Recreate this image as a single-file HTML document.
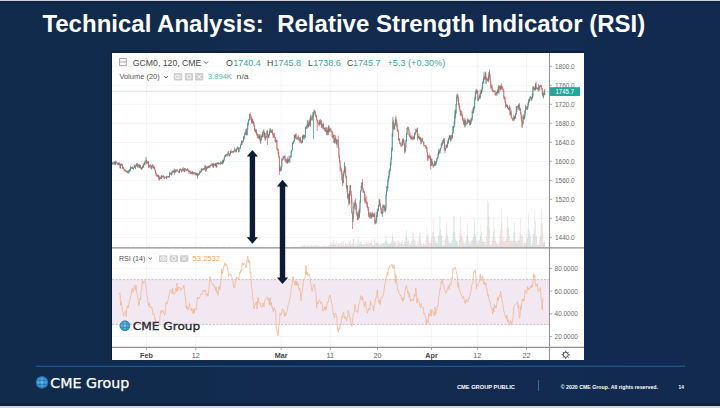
<!DOCTYPE html>
<html><head><meta charset="utf-8"><style>
html,body{margin:0;padding:0;}
body{width:720px;height:408px;overflow:hidden;position:relative;background:linear-gradient(90deg,#112b4c,#122a50);font-family:"Liberation Sans",Arial,sans-serif;}
.topline{position:absolute;left:0;top:0;width:720px;height:1px;background:#c9d0da;}
.botline{position:absolute;left:0;top:405.5px;width:720px;height:2.5px;background:#cdd4dd;}
.botdark{position:absolute;left:0;top:402.5px;width:720px;height:3px;background:#0e213e;}
.topdark{position:absolute;left:0;top:1px;width:720px;height:3px;background:#0f2443;}
.t{position:absolute;top:0;font:bold 24px/1 "Liberation Sans",Arial,sans-serif;color:#fff;white-space:nowrap;}
.ax{font:6.9px "Liberation Sans",Arial,sans-serif;fill:#6a6a6a;}
.tb{font:bold 7.2px "Liberation Sans",Arial,sans-serif;fill:#454545;}
.tl{font:7.2px "Liberation Sans",Arial,sans-serif;fill:#5e5e5e;}
.lg{font:8.8px "Liberation Sans",Arial,sans-serif;fill:#4a4a4a;}
.lg2{font:7.6px "Liberation Sans",Arial,sans-serif;fill:#555;}
.wm{font:11.1px "DejaVu Sans",sans-serif;fill:#2a2a33;stroke:#2a2a33;stroke-width:0.35px;}
.fl{font:13.2px "DejaVu Sans",sans-serif;fill:#fff;stroke:#fff;stroke-width:0.25px;}
.ft{font:bold 5.7px "Liberation Sans",Arial,sans-serif;fill:#fff;}
</style></head><body>
<div class="topline"></div><div class="topdark"></div>
<div class="t" id="t1" style="left:42.4px;top:12px">Technical Analysis:</div>
<div class="t" id="t2" style="left:277.2px;top:12px">Relative Strength Indicator (RSI)</div>
<svg width="720" height="408" viewBox="0 0 720 408" style="position:absolute;left:0;top:0">
<path d="M111 52H584M111.5 52V360" stroke="#0b1a33" stroke-width="1"/>
<rect x="112" y="53" width="472" height="307" fill="#ffffff"/>
<path d="M112 237.37H549M112 218.36H549M112 199.36H549M112 180.35H549M112 161.34H549M112 142.33H549M112 123.32H549M112 104.32H549M112 85.31H549M112 66.3H549M112 268.4H549M112 291.1H549M112 313.8H549M112 336.5H549M146.5 53V347M195.8 53V347M281.2 53V347M330.3 53V347M377.5 53V347M431.5 53V347M477.3 53V347M526.5 53V347" stroke="#f4f5f8" stroke-width="1" fill="none"/>
<rect x="112" y="279.6" width="437.5" height="44.8" fill="#f1e8f2"/>
<path d="M112 279.6H549M112 324.4H549" stroke="#c6b9c6" stroke-width="0.9" stroke-dasharray="2.2 1.4" fill="none"/>
<path d="M112.33 246.58h0.55v0.72h-0.55zM114.19 246.45h0.55v0.85h-0.55zM115.43 246.57h0.55v0.73h-0.55zM116.05 247.01h0.55v0.29h-0.55zM118.53 246.45h0.55v0.85h-0.55zM120.39 246.92h0.55v0.38h-0.55zM121.63 246.44h0.55v0.86h-0.55zM122.87 246.45h0.55v0.85h-0.55zM125.35 247.12h0.55v0.18h-0.55zM126.59 247.1h0.55v0.2h-0.55zM127.83 246.95h0.55v0.35h-0.55zM128.45 246.5h0.55v0.8h-0.55zM129.07 247.15h0.55v0.15h-0.55zM129.69 246.67h0.55v0.63h-0.55zM130.31 247.15h0.55v0.15h-0.55zM131.55 246.74h0.55v0.56h-0.55zM132.79 246.65h0.55v0.65h-0.55zM133.41 246.52h0.55v0.78h-0.55zM134.03 246.57h0.55v0.73h-0.55zM135.27 247.14h0.55v0.16h-0.55zM135.89 246.78h0.55v0.52h-0.55zM136.51 247.05h0.55v0.25h-0.55zM137.75 246.92h0.55v0.38h-0.55zM138.37 246.8h0.55v0.5h-0.55zM139.61 246.64h0.55v0.66h-0.55zM141.47 247.14h0.55v0.16h-0.55zM142.09 246.81h0.55v0.49h-0.55zM143.33 246.42h0.55v0.88h-0.55zM143.95 246.75h0.55v0.55h-0.55zM144.57 247.09h0.55v0.21h-0.55zM145.81 246.93h0.55v0.37h-0.55zM147.67 246.42h0.55v0.88h-0.55zM148.91 246.46h0.55v0.84h-0.55zM149.53 246.51h0.55v0.79h-0.55zM151.39 246.81h0.55v0.49h-0.55zM152.01 246.73h0.55v0.57h-0.55zM153.25 246.71h0.55v0.59h-0.55zM157.59 247.11h0.55v0.19h-0.55zM159.45 247.18h0.55v0.12h-0.55zM160.69 246.54h0.55v0.76h-0.55zM161.31 246.65h0.55v0.65h-0.55zM162.55 246.74h0.55v0.56h-0.55zM163.17 246.59h0.55v0.71h-0.55zM164.41 247.2h0.55v0.1h-0.55zM165.03 247.15h0.55v0.15h-0.55zM166.27 246.42h0.55v0.88h-0.55zM168.13 246.93h0.55v0.37h-0.55zM168.75 246.92h0.55v0.38h-0.55zM169.37 247.19h0.55v0.11h-0.55zM171.23 246.73h0.55v0.57h-0.55zM171.85 246.78h0.55v0.52h-0.55zM172.47 246.93h0.55v0.37h-0.55zM173.71 246.84h0.55v0.46h-0.55zM174.95 246.49h0.55v0.81h-0.55zM175.57 247.06h0.55v0.24h-0.55zM176.81 247h0.55v0.3h-0.55zM179.29 247.01h0.55v0.29h-0.55zM181.77 247h0.55v0.3h-0.55zM182.39 246.5h0.55v0.8h-0.55zM184.25 246.96h0.55v0.34h-0.55zM186.73 246.57h0.55v0.73h-0.55zM189.21 247h0.55v0.3h-0.55zM190.45 246.87h0.55v0.43h-0.55zM191.69 246.9h0.55v0.4h-0.55zM192.93 246.47h0.55v0.83h-0.55zM193.55 246.41h0.55v0.89h-0.55zM194.17 246.89h0.55v0.41h-0.55zM195.41 246.57h0.55v0.73h-0.55zM196.03 246.57h0.55v0.73h-0.55zM197.89 246.9h0.55v0.4h-0.55zM199.13 246.73h0.55v0.57h-0.55zM199.75 246.61h0.55v0.69h-0.55zM200.99 246.55h0.55v0.75h-0.55zM201.61 247.19h0.55v0.11h-0.55zM202.85 246.9h0.55v0.4h-0.55zM203.47 247.15h0.55v0.15h-0.55zM204.71 247.09h0.55v0.21h-0.55zM205.95 246.5h0.55v0.8h-0.55zM206.57 246.43h0.55v0.87h-0.55zM208.43 246.46h0.55v0.84h-0.55zM209.67 246.63h0.55v0.67h-0.55zM210.91 247.05h0.55v0.25h-0.55zM212.15 246.66h0.55v0.64h-0.55zM213.39 246.62h0.55v0.68h-0.55zM215.25 246.9h0.55v0.4h-0.55zM216.49 246.98h0.55v0.32h-0.55zM217.73 247.14h0.55v0.16h-0.55zM218.97 246.92h0.55v0.38h-0.55zM220.21 246.95h0.55v0.35h-0.55zM220.83 247.05h0.55v0.25h-0.55zM222.07 246.78h0.55v0.52h-0.55zM223.31 246.75h0.55v0.55h-0.55zM223.93 246.59h0.55v0.71h-0.55zM224.55 246.78h0.55v0.52h-0.55zM225.17 246.44h0.55v0.86h-0.55zM225.79 247.13h0.55v0.17h-0.55zM227.65 246.95h0.55v0.35h-0.55zM229.51 246.8h0.55v0.5h-0.55zM230.13 247.07h0.55v0.23h-0.55zM231.99 246.96h0.55v0.34h-0.55zM232.61 246.57h0.55v0.73h-0.55zM233.85 246.83h0.55v0.47h-0.55zM234.47 246.72h0.55v0.58h-0.55zM236.33 247.05h0.55v0.25h-0.55zM236.95 246.44h0.55v0.86h-0.55zM238.81 246.59h0.55v0.71h-0.55zM239.43 246.88h0.55v0.42h-0.55zM240.05 247.16h0.55v0.14h-0.55zM241.29 247.06h0.55v0.24h-0.55zM242.53 247.03h0.55v0.27h-0.55zM243.15 247.18h0.55v0.12h-0.55zM243.77 247.02h0.55v0.28h-0.55zM244.39 246.56h0.55v0.74h-0.55zM245.01 246.8h0.55v0.5h-0.55zM245.63 246.68h0.55v0.62h-0.55zM246.87 247.05h0.55v0.25h-0.55zM247.49 247.19h0.55v0.11h-0.55zM248.11 246.96h0.55v0.34h-0.55zM248.73 247.17h0.55v0.13h-0.55zM249.35 246.99h0.55v0.31h-0.55zM251.83 246.7h0.55v0.6h-0.55zM255.55 246.77h0.55v0.53h-0.55zM258.03 247.01h0.55v0.29h-0.55zM259.27 246.52h0.55v0.78h-0.55zM260.51 247.07h0.55v0.23h-0.55zM261.13 246.79h0.55v0.51h-0.55zM262.37 246.97h0.55v0.33h-0.55zM262.99 247.06h0.55v0.24h-0.55zM264.23 247.01h0.55v0.29h-0.55zM265.47 247.07h0.55v0.23h-0.55zM266.09 246.44h0.55v0.86h-0.55zM266.71 246.97h0.55v0.33h-0.55zM268.57 246.92h0.55v0.38h-0.55zM269.19 246.75h0.55v0.55h-0.55zM269.81 246.8h0.55v0.5h-0.55zM271.05 246.79h0.55v0.51h-0.55zM271.67 246.9h0.55v0.4h-0.55zM273.53 246.98h0.55v0.32h-0.55zM276.01 247.13h0.55v0.17h-0.55zM279.73 246.85h0.55v0.45h-0.55zM280.97 246.56h0.55v0.74h-0.55zM281.59 247.01h0.55v0.29h-0.55zM282.83 246.56h0.55v0.74h-0.55zM283.45 247h0.55v0.3h-0.55zM284.07 246.48h0.55v0.82h-0.55zM287.17 246.81h0.55v0.49h-0.55zM288.41 246.97h0.55v0.33h-0.55zM289.03 246.53h0.55v0.77h-0.55zM289.65 246.8h0.55v0.5h-0.55zM290.89 247.04h0.55v0.26h-0.55zM291.51 247.03h0.55v0.27h-0.55zM292.13 246.53h0.55v0.77h-0.55zM293.37 246.42h0.55v0.88h-0.55zM293.99 246.47h0.55v0.83h-0.55zM295.23 246.56h0.55v0.74h-0.55zM296.47 246.55h0.55v0.75h-0.55zM297.09 246.56h0.55v0.74h-0.55zM299.57 247h0.55v0.3h-0.55zM301.43 246.03h0.55v1.27h-0.55zM302.05 246.35h0.55v0.95h-0.55zM302.67 245.5h0.55v1.8h-0.55zM303.91 245.27h0.55v2.03h-0.55zM304.53 245.23h0.55v2.07h-0.55zM305.15 245.78h0.55v1.52h-0.55zM306.39 245.73h0.55v1.57h-0.55zM307.01 246.79h0.55v0.51h-0.55zM308.25 245.34h0.55v1.96h-0.55zM308.87 246.41h0.55v0.89h-0.55zM310.11 245.68h0.55v1.62h-0.55zM311.97 245.82h0.55v1.48h-0.55zM312.59 246.76h0.55v0.54h-0.55zM313.21 245.62h0.55v1.68h-0.55zM313.83 246.89h0.55v0.41h-0.55zM319.41 246.27h0.55v1.03h-0.55zM320.65 246.96h0.55v0.34h-0.55zM322.51 246.57h0.55v0.73h-0.55zM324.37 245.68h0.55v1.62h-0.55zM325.61 246.4h0.55v0.9h-0.55zM326.85 246.64h0.55v0.66h-0.55zM328.09 245.7h0.55v1.6h-0.55zM329.33 246.37h0.55v0.93h-0.55zM333.05 239.86h0.55v7.44h-0.55zM334.29 243.93h0.55v3.37h-0.55zM334.91 245.05h0.55v2.25h-0.55zM336.77 246.04h0.55v1.26h-0.55zM337.39 243.67h0.55v3.63h-0.55zM342.97 241.31h0.55v5.99h-0.55zM343.59 245.35h0.55v1.95h-0.55zM344.21 246.02h0.55v1.28h-0.55zM346.69 243.06h0.55v4.24h-0.55zM347.93 245.77h0.55v1.53h-0.55zM349.17 242.02h0.55v5.28h-0.55zM349.79 244.95h0.55v2.35h-0.55zM352.89 239.22h0.55v8.08h-0.55zM353.51 238.75h0.55v8.55h-0.55zM354.13 246.03h0.55v1.27h-0.55zM354.75 242.22h0.55v5.08h-0.55zM357.85 237.38h0.55v9.92h-0.55zM359.09 241.97h0.55v5.33h-0.55zM359.71 244.25h0.55v3.05h-0.55zM360.33 241.86h0.55v5.44h-0.55zM360.95 242.34h0.55v4.96h-0.55zM361.57 244.06h0.55v3.24h-0.55zM363.43 244.24h0.55v3.06h-0.55zM369.01 242.96h0.55v4.34h-0.55zM370.25 242.45h0.55v4.85h-0.55zM371.49 238.74h0.55v8.56h-0.55zM372.73 245h0.55v2.3h-0.55zM373.35 245.2h0.55v2.1h-0.55zM375.83 242.11h0.55v5.19h-0.55zM376.45 243.35h0.55v3.95h-0.55zM377.07 242.49h0.55v4.81h-0.55zM378.31 242.77h0.55v4.53h-0.55zM378.93 243.58h0.55v3.72h-0.55zM382.03 243.82h0.55v3.48h-0.55zM382.65 243.17h0.55v4.13h-0.55zM383.27 242.98h0.55v4.32h-0.55zM385.13 239.85h0.55v7.45h-0.55zM385.75 235.79h0.55v11.51h-0.55zM386.37 241.25h0.55v6.05h-0.55zM386.99 243.27h0.55v4.03h-0.55zM387.61 241.66h0.55v5.64h-0.55zM388.23 243.52h0.55v3.78h-0.55zM388.85 244.16h0.55v3.14h-0.55zM389.47 243.65h0.55v3.65h-0.55zM390.09 242.58h0.55v4.72h-0.55zM390.71 243.09h0.55v4.21h-0.55zM391.33 241.86h0.55v5.44h-0.55zM391.95 237.08h0.55v10.22h-0.55zM392.57 232.57h0.55v14.73h-0.55zM394.43 241.37h0.55v5.93h-0.55zM395.05 242.87h0.55v4.43h-0.55zM398.77 240.29h0.55v7.01h-0.55zM401.25 242.14h0.55v5.16h-0.55zM401.87 239.88h0.55v7.42h-0.55zM402.49 244.46h0.55v2.84h-0.55zM404.97 242.32h0.55v4.98h-0.55zM405.59 235.94h0.55v11.36h-0.55zM406.21 230.28h0.55v17.02h-0.55zM406.83 237.98h0.55v9.32h-0.55zM407.45 241.56h0.55v5.74h-0.55zM410.55 244.43h0.55v2.87h-0.55zM411.79 240.18h0.55v7.12h-0.55zM413.03 232.69h0.55v14.61h-0.55zM414.27 239.89h0.55v7.41h-0.55zM414.89 240.63h0.55v6.67h-0.55zM415.51 245.42h0.55v1.88h-0.55zM416.13 245.19h0.55v2.11h-0.55zM416.75 245.67h0.55v1.63h-0.55zM417.99 243.58h0.55v3.72h-0.55zM419.85 233.02h0.55v14.28h-0.55zM421.09 243.53h0.55v3.77h-0.55zM421.71 244.23h0.55v3.07h-0.55zM428.53 241.57h0.55v5.73h-0.55zM431.01 237.03h0.55v10.27h-0.55zM433.49 232.34h0.55v14.96h-0.55zM434.11 236.57h0.55v10.73h-0.55zM434.73 237.64h0.55v9.66h-0.55zM435.35 241.65h0.55v5.65h-0.55zM435.97 241.33h0.55v5.97h-0.55zM436.59 243.07h0.55v4.23h-0.55zM437.21 243.42h0.55v3.88h-0.55zM437.83 235.49h0.55v11.81h-0.55zM438.45 235.26h0.55v12.04h-0.55zM439.69 215.95h0.55v31.35h-0.55zM440.31 229.13h0.55v18.17h-0.55zM440.93 235.61h0.55v11.69h-0.55zM441.55 234.8h0.55v12.5h-0.55zM442.17 245.35h0.55v1.95h-0.55zM443.41 245.72h0.55v1.58h-0.55zM445.27 239.18h0.55v8.12h-0.55zM445.89 232.77h0.55v14.53h-0.55zM447.13 234.47h0.55v12.83h-0.55zM447.75 237.42h0.55v9.88h-0.55zM448.37 240.97h0.55v6.33h-0.55zM448.99 243.12h0.55v4.18h-0.55zM449.61 242.54h0.55v4.76h-0.55zM450.85 242.33h0.55v4.97h-0.55zM452.09 239.64h0.55v7.66h-0.55zM452.71 231.49h0.55v15.81h-0.55zM453.33 216.27h0.55v31.03h-0.55zM453.95 215.97h0.55v31.33h-0.55zM454.57 232.37h0.55v14.93h-0.55zM455.19 239.37h0.55v7.93h-0.55zM455.81 240.91h0.55v6.39h-0.55zM456.43 241.46h0.55v5.84h-0.55zM457.05 241.25h0.55v6.05h-0.55zM461.39 235.82h0.55v11.48h-0.55zM463.87 245.54h0.55v1.76h-0.55zM464.49 242.42h0.55v4.88h-0.55zM465.73 240.86h0.55v6.44h-0.55zM466.35 235.39h0.55v11.91h-0.55zM466.97 223.34h0.55v23.96h-0.55zM468.83 241.6h0.55v5.7h-0.55zM470.07 244.06h0.55v3.24h-0.55zM470.69 240.73h0.55v6.57h-0.55zM471.31 241.6h0.55v5.7h-0.55zM471.93 239.92h0.55v7.38h-0.55zM473.17 237.44h0.55v9.86h-0.55zM473.79 233.96h0.55v13.34h-0.55zM474.41 219.48h0.55v27.82h-0.55zM475.03 234.04h0.55v13.26h-0.55zM475.65 235.92h0.55v11.38h-0.55zM476.89 244.91h0.55v2.39h-0.55zM478.13 240.31h0.55v6.99h-0.55zM478.75 240.31h0.55v6.99h-0.55zM479.99 235.42h0.55v11.88h-0.55zM481.23 231.78h0.55v15.52h-0.55zM481.85 241.76h0.55v5.54h-0.55zM482.47 238.71h0.55v8.59h-0.55zM483.09 242.08h0.55v5.22h-0.55zM483.71 241.33h0.55v5.97h-0.55zM484.95 241.47h0.55v5.83h-0.55zM488.05 202.54h0.55v44.76h-0.55zM488.67 216.27h0.55v31.03h-0.55zM491.15 244.08h0.55v3.22h-0.55zM493.01 231.85h0.55v15.45h-0.55zM495.49 240.77h0.55v6.53h-0.55zM496.11 242.11h0.55v5.19h-0.55zM496.73 244.64h0.55v2.66h-0.55zM497.35 243.79h0.55v3.51h-0.55zM498.59 240.47h0.55v6.83h-0.55zM500.45 228.22h0.55v19.08h-0.55zM506.03 238.74h0.55v8.56h-0.55zM509.13 235.65h0.55v11.65h-0.55zM510.37 240.46h0.55v6.84h-0.55zM512.85 240.04h0.55v7.26h-0.55zM514.09 222.87h0.55v24.43h-0.55zM514.71 232.3h0.55v15h-0.55zM515.33 240.77h0.55v6.53h-0.55zM515.95 241.41h0.55v5.89h-0.55zM516.57 243.11h0.55v4.19h-0.55zM517.19 240.66h0.55v6.64h-0.55zM518.43 239.27h0.55v8.03h-0.55zM519.67 232.61h0.55v14.69h-0.55zM522.77 241.97h0.55v5.33h-0.55zM524.01 241.5h0.55v5.8h-0.55zM524.63 244.41h0.55v2.89h-0.55zM525.25 242.91h0.55v4.39h-0.55zM527.11 238.13h0.55v9.17h-0.55zM527.73 228.92h0.55v18.38h-0.55zM528.35 213.43h0.55v33.87h-0.55zM529.59 233.61h0.55v13.69h-0.55zM530.21 236.05h0.55v11.25h-0.55zM531.45 245.59h0.55v1.71h-0.55zM532.07 243.32h0.55v3.98h-0.55zM532.69 233.63h0.55v13.67h-0.55zM533.93 228.95h0.55v18.35h-0.55zM535.17 221.38h0.55v25.92h-0.55zM537.03 245.12h0.55v2.18h-0.55zM538.27 245.65h0.55v1.65h-0.55zM539.51 238.12h0.55v9.18h-0.55zM540.13 235.2h0.55v12.1h-0.55zM540.75 223.57h0.55v23.73h-0.55zM543.23 242.48h0.55v4.82h-0.55zM543.85 242.31h0.55v4.99h-0.55zM544.47 240.62h0.55v6.68h-0.55z" fill="#3f877b" fill-opacity="0.25"/>
<path d="M112.95 246.99h0.55v0.31h-0.55zM113.57 247.16h0.55v0.14h-0.55zM114.81 246.91h0.55v0.39h-0.55zM116.67 246.84h0.55v0.46h-0.55zM117.29 246.9h0.55v0.4h-0.55zM117.91 246.62h0.55v0.68h-0.55zM119.15 246.8h0.55v0.5h-0.55zM119.77 246.75h0.55v0.55h-0.55zM121.01 247.01h0.55v0.29h-0.55zM122.25 247.11h0.55v0.19h-0.55zM123.49 246.67h0.55v0.63h-0.55zM124.11 247.14h0.55v0.16h-0.55zM124.73 246.48h0.55v0.82h-0.55zM125.97 246.75h0.55v0.55h-0.55zM127.21 246.41h0.55v0.89h-0.55zM130.93 247.18h0.55v0.12h-0.55zM132.17 246.41h0.55v0.89h-0.55zM134.65 246.78h0.55v0.52h-0.55zM137.13 246.78h0.55v0.52h-0.55zM138.99 247.04h0.55v0.26h-0.55zM140.23 246.87h0.55v0.43h-0.55zM140.85 246.81h0.55v0.49h-0.55zM142.71 246.75h0.55v0.55h-0.55zM145.19 246.96h0.55v0.34h-0.55zM146.43 246.64h0.55v0.66h-0.55zM147.05 246.45h0.55v0.85h-0.55zM148.29 246.44h0.55v0.86h-0.55zM150.15 246.45h0.55v0.85h-0.55zM150.77 247.18h0.55v0.12h-0.55zM152.63 246.65h0.55v0.65h-0.55zM153.87 246.71h0.55v0.59h-0.55zM154.49 246.45h0.55v0.85h-0.55zM155.11 247.13h0.55v0.17h-0.55zM155.73 246.78h0.55v0.52h-0.55zM156.35 246.43h0.55v0.87h-0.55zM156.97 247.17h0.55v0.13h-0.55zM158.21 246.5h0.55v0.8h-0.55zM158.83 246.43h0.55v0.87h-0.55zM160.07 247.17h0.55v0.13h-0.55zM161.93 246.78h0.55v0.52h-0.55zM163.79 246.55h0.55v0.75h-0.55zM165.65 246.56h0.55v0.74h-0.55zM166.89 246.53h0.55v0.77h-0.55zM167.51 246.87h0.55v0.43h-0.55zM169.99 246.58h0.55v0.72h-0.55zM170.61 246.99h0.55v0.31h-0.55zM173.09 246.66h0.55v0.64h-0.55zM174.33 247.01h0.55v0.29h-0.55zM176.19 247.08h0.55v0.22h-0.55zM177.43 246.82h0.55v0.48h-0.55zM178.05 246.57h0.55v0.73h-0.55zM178.67 246.93h0.55v0.37h-0.55zM179.91 246.68h0.55v0.62h-0.55zM180.53 246.99h0.55v0.31h-0.55zM181.15 246.78h0.55v0.52h-0.55zM183.01 247.05h0.55v0.25h-0.55zM183.63 247.01h0.55v0.29h-0.55zM184.87 246.94h0.55v0.36h-0.55zM185.49 246.62h0.55v0.68h-0.55zM186.11 246.66h0.55v0.64h-0.55zM187.35 246.77h0.55v0.53h-0.55zM187.97 247.14h0.55v0.16h-0.55zM188.59 246.59h0.55v0.71h-0.55zM189.83 247.03h0.55v0.27h-0.55zM191.07 246.41h0.55v0.89h-0.55zM192.31 246.91h0.55v0.39h-0.55zM194.79 247.09h0.55v0.21h-0.55zM196.65 246.93h0.55v0.37h-0.55zM197.27 246.57h0.55v0.73h-0.55zM198.51 246.97h0.55v0.33h-0.55zM200.37 246.82h0.55v0.48h-0.55zM202.23 246.8h0.55v0.5h-0.55zM204.09 246.47h0.55v0.83h-0.55zM205.33 247.04h0.55v0.26h-0.55zM207.19 246.45h0.55v0.85h-0.55zM207.81 246.93h0.55v0.37h-0.55zM209.05 247.09h0.55v0.21h-0.55zM210.29 246.44h0.55v0.86h-0.55zM211.53 247.09h0.55v0.21h-0.55zM212.77 246.49h0.55v0.81h-0.55zM214.01 246.44h0.55v0.86h-0.55zM214.63 246.84h0.55v0.46h-0.55zM215.87 247.1h0.55v0.2h-0.55zM217.11 246.45h0.55v0.85h-0.55zM218.35 247.05h0.55v0.25h-0.55zM219.59 247.16h0.55v0.14h-0.55zM221.45 247.1h0.55v0.2h-0.55zM222.69 246.77h0.55v0.53h-0.55zM226.41 247.02h0.55v0.28h-0.55zM227.03 247.14h0.55v0.16h-0.55zM228.27 246.59h0.55v0.71h-0.55zM228.89 246.46h0.55v0.84h-0.55zM230.75 246.94h0.55v0.36h-0.55zM231.37 246.75h0.55v0.55h-0.55zM233.23 246.42h0.55v0.88h-0.55zM235.09 246.52h0.55v0.78h-0.55zM235.71 246.83h0.55v0.47h-0.55zM237.57 246.42h0.55v0.88h-0.55zM238.19 247.18h0.55v0.12h-0.55zM240.67 247.07h0.55v0.23h-0.55zM241.91 246.61h0.55v0.69h-0.55zM246.25 246.83h0.55v0.47h-0.55zM249.97 246.7h0.55v0.6h-0.55zM250.59 246.9h0.55v0.4h-0.55zM251.21 246.82h0.55v0.48h-0.55zM252.45 246.95h0.55v0.35h-0.55zM253.07 246.91h0.55v0.39h-0.55zM253.69 246.49h0.55v0.81h-0.55zM254.31 246.74h0.55v0.56h-0.55zM254.93 246.87h0.55v0.43h-0.55zM256.17 246.83h0.55v0.47h-0.55zM256.79 246.93h0.55v0.37h-0.55zM257.41 246.47h0.55v0.83h-0.55zM258.65 246.45h0.55v0.85h-0.55zM259.89 246.49h0.55v0.81h-0.55zM261.75 246.41h0.55v0.89h-0.55zM263.61 246.62h0.55v0.68h-0.55zM264.85 246.73h0.55v0.57h-0.55zM267.33 247.12h0.55v0.18h-0.55zM267.95 246.65h0.55v0.65h-0.55zM270.43 246.46h0.55v0.84h-0.55zM272.29 247.2h0.55v0.1h-0.55zM272.91 246.8h0.55v0.5h-0.55zM274.15 246.74h0.55v0.56h-0.55zM274.77 246.69h0.55v0.61h-0.55zM275.39 246.83h0.55v0.47h-0.55zM276.63 246.8h0.55v0.5h-0.55zM277.25 246.81h0.55v0.49h-0.55zM277.87 246.69h0.55v0.61h-0.55zM278.49 246.42h0.55v0.88h-0.55zM279.11 246.98h0.55v0.32h-0.55zM280.35 247.13h0.55v0.17h-0.55zM282.21 246.54h0.55v0.76h-0.55zM284.69 246.8h0.55v0.5h-0.55zM285.31 246.86h0.55v0.44h-0.55zM285.93 246.76h0.55v0.54h-0.55zM286.55 246.44h0.55v0.86h-0.55zM287.79 246.81h0.55v0.49h-0.55zM290.27 246.93h0.55v0.37h-0.55zM292.75 246.56h0.55v0.74h-0.55zM294.61 246.65h0.55v0.65h-0.55zM295.85 246.63h0.55v0.67h-0.55zM297.71 247.06h0.55v0.24h-0.55zM298.33 246.55h0.55v0.75h-0.55zM298.95 246.96h0.55v0.34h-0.55zM300.19 245.25h0.55v2.05h-0.55zM300.81 246.96h0.55v0.34h-0.55zM303.29 245.84h0.55v1.46h-0.55zM305.77 246.88h0.55v0.42h-0.55zM307.63 245.13h0.55v2.17h-0.55zM309.49 246.65h0.55v0.65h-0.55zM310.73 245.56h0.55v1.74h-0.55zM311.35 245.13h0.55v2.17h-0.55zM314.45 245.35h0.55v1.95h-0.55zM315.07 245.54h0.55v1.76h-0.55zM315.69 245.51h0.55v1.79h-0.55zM316.31 245.34h0.55v1.96h-0.55zM316.93 245.92h0.55v1.38h-0.55zM317.55 245.21h0.55v2.09h-0.55zM318.17 245.79h0.55v1.51h-0.55zM318.79 246.07h0.55v1.23h-0.55zM320.03 246.33h0.55v0.97h-0.55zM321.27 246.69h0.55v0.61h-0.55zM321.89 245.49h0.55v1.81h-0.55zM323.13 245.76h0.55v1.54h-0.55zM323.75 245.53h0.55v1.77h-0.55zM324.99 246.02h0.55v1.28h-0.55zM326.23 246.48h0.55v0.82h-0.55zM327.47 245.77h0.55v1.53h-0.55zM328.71 245.21h0.55v2.09h-0.55zM329.95 241.66h0.55v5.64h-0.55zM330.57 244.85h0.55v2.45h-0.55zM331.19 243.2h0.55v4.1h-0.55zM331.81 242.43h0.55v4.87h-0.55zM332.43 244.9h0.55v2.4h-0.55zM333.67 241.99h0.55v5.31h-0.55zM335.53 243.4h0.55v3.9h-0.55zM336.15 240.66h0.55v6.64h-0.55zM338.01 243.1h0.55v4.2h-0.55zM338.63 244.27h0.55v3.03h-0.55zM339.25 243.93h0.55v3.37h-0.55zM339.87 245.69h0.55v1.61h-0.55zM340.49 242.87h0.55v4.43h-0.55zM341.11 243.52h0.55v3.78h-0.55zM341.73 241.61h0.55v5.69h-0.55zM342.35 245.04h0.55v2.26h-0.55zM344.83 243.54h0.55v3.76h-0.55zM345.45 242.7h0.55v4.6h-0.55zM346.07 244.7h0.55v2.6h-0.55zM347.31 244.02h0.55v3.28h-0.55zM348.55 241.53h0.55v5.77h-0.55zM350.41 240.11h0.55v7.19h-0.55zM351.03 244.17h0.55v3.13h-0.55zM351.65 242.58h0.55v4.72h-0.55zM352.27 243.05h0.55v4.25h-0.55zM355.37 244.35h0.55v2.95h-0.55zM355.99 245.77h0.55v1.53h-0.55zM356.61 242.04h0.55v5.26h-0.55zM357.23 243.36h0.55v3.94h-0.55zM358.47 244.78h0.55v2.52h-0.55zM362.19 244.12h0.55v3.18h-0.55zM362.81 244.72h0.55v2.58h-0.55zM364.05 242.44h0.55v4.86h-0.55zM364.67 243.93h0.55v3.37h-0.55zM365.29 244.03h0.55v3.27h-0.55zM365.91 241.81h0.55v5.49h-0.55zM366.53 242.37h0.55v4.93h-0.55zM367.15 242.94h0.55v4.36h-0.55zM367.77 244.82h0.55v2.48h-0.55zM368.39 241.55h0.55v5.75h-0.55zM369.63 243.03h0.55v4.27h-0.55zM370.87 241.4h0.55v5.9h-0.55zM372.11 244.22h0.55v3.08h-0.55zM373.97 241.33h0.55v5.97h-0.55zM374.59 237.74h0.55v9.56h-0.55zM375.21 243.39h0.55v3.91h-0.55zM377.69 243.41h0.55v3.89h-0.55zM379.55 245.62h0.55v1.68h-0.55zM380.17 244.68h0.55v2.62h-0.55zM380.79 241.55h0.55v5.75h-0.55zM381.41 243.46h0.55v3.84h-0.55zM383.89 242.27h0.55v5.03h-0.55zM384.51 243.27h0.55v4.03h-0.55zM393.19 239.96h0.55v7.34h-0.55zM393.81 241.81h0.55v5.49h-0.55zM395.67 241.63h0.55v5.67h-0.55zM396.29 245.63h0.55v1.67h-0.55zM396.91 240.89h0.55v6.41h-0.55zM397.53 244.53h0.55v2.77h-0.55zM398.15 241.6h0.55v5.7h-0.55zM399.39 242.96h0.55v4.34h-0.55zM400.01 243.15h0.55v4.15h-0.55zM400.63 242.38h0.55v4.92h-0.55zM403.11 244.46h0.55v2.84h-0.55zM403.73 242.08h0.55v5.22h-0.55zM404.35 240.5h0.55v6.8h-0.55zM408.07 240.5h0.55v6.8h-0.55zM408.69 240.57h0.55v6.73h-0.55zM409.31 244.44h0.55v2.86h-0.55zM409.93 243.61h0.55v3.69h-0.55zM411.17 241.49h0.55v5.81h-0.55zM412.41 232.35h0.55v14.95h-0.55zM413.65 239.06h0.55v8.24h-0.55zM417.37 241.62h0.55v5.68h-0.55zM418.61 238.19h0.55v9.11h-0.55zM419.23 233.09h0.55v14.21h-0.55zM420.47 239.42h0.55v7.88h-0.55zM422.33 245.7h0.55v1.6h-0.55zM422.95 243.94h0.55v3.36h-0.55zM423.57 242.25h0.55v5.05h-0.55zM424.19 244.19h0.55v3.11h-0.55zM424.81 245.12h0.55v2.18h-0.55zM425.43 240.72h0.55v6.58h-0.55zM426.05 236.42h0.55v10.88h-0.55zM426.67 226.95h0.55v20.35h-0.55zM427.29 234.63h0.55v12.67h-0.55zM427.91 235.45h0.55v11.85h-0.55zM429.15 242.78h0.55v4.52h-0.55zM429.77 242.99h0.55v4.31h-0.55zM430.39 242.63h0.55v4.67h-0.55zM431.63 240.27h0.55v7.03h-0.55zM432.25 232.23h0.55v15.07h-0.55zM432.87 218.89h0.55v28.41h-0.55zM439.07 232.59h0.55v14.71h-0.55zM442.79 239.84h0.55v7.46h-0.55zM444.03 244.91h0.55v2.39h-0.55zM444.65 238.77h0.55v8.53h-0.55zM446.51 221.83h0.55v25.47h-0.55zM450.23 243.78h0.55v3.52h-0.55zM451.47 242.01h0.55v5.29h-0.55zM457.67 245.46h0.55v1.84h-0.55zM458.29 245.59h0.55v1.71h-0.55zM458.91 240.14h0.55v7.16h-0.55zM459.53 232.94h0.55v14.36h-0.55zM460.15 216.73h0.55v30.57h-0.55zM460.77 230.65h0.55v16.65h-0.55zM462.01 237.03h0.55v10.27h-0.55zM462.63 242.11h0.55v5.19h-0.55zM463.25 240.19h0.55v7.11h-0.55zM465.11 243.5h0.55v3.8h-0.55zM467.59 234.83h0.55v12.47h-0.55zM468.21 239.26h0.55v8.04h-0.55zM469.45 244.38h0.55v2.92h-0.55zM472.55 237.96h0.55v9.34h-0.55zM476.27 239.67h0.55v7.63h-0.55zM477.51 242.25h0.55v5.05h-0.55zM479.37 239.07h0.55v8.23h-0.55zM480.61 224.32h0.55v22.98h-0.55zM484.33 241.23h0.55v6.07h-0.55zM485.57 245.49h0.55v1.81h-0.55zM486.19 236.53h0.55v10.77h-0.55zM486.81 225.75h0.55v21.55h-0.55zM487.43 200.69h0.55v46.61h-0.55zM489.29 229.32h0.55v17.98h-0.55zM489.91 245.58h0.55v1.72h-0.55zM490.53 245.12h0.55v2.18h-0.55zM491.77 240.32h0.55v6.98h-0.55zM492.39 237h0.55v10.3h-0.55zM493.63 216.88h0.55v30.42h-0.55zM494.25 228.71h0.55v18.59h-0.55zM494.87 238.58h0.55v8.72h-0.55zM497.97 245.74h0.55v1.56h-0.55zM499.21 242.27h0.55v5.03h-0.55zM499.83 235.12h0.55v12.18h-0.55zM501.07 208.38h0.55v38.92h-0.55zM501.69 222.55h0.55v24.75h-0.55zM502.31 239.08h0.55v8.22h-0.55zM502.93 237.09h0.55v10.21h-0.55zM503.55 241.3h0.55v6h-0.55zM504.17 241.09h0.55v6.21h-0.55zM504.79 241.6h0.55v5.7h-0.55zM505.41 240.25h0.55v7.05h-0.55zM506.65 227.61h0.55v19.69h-0.55zM507.27 216.63h0.55v30.67h-0.55zM507.89 226.84h0.55v20.46h-0.55zM508.51 228.84h0.55v18.46h-0.55zM509.75 242.34h0.55v4.96h-0.55zM510.99 239.81h0.55v7.49h-0.55zM511.61 240.76h0.55v6.54h-0.55zM512.23 241.86h0.55v5.44h-0.55zM513.47 232.7h0.55v14.6h-0.55zM517.81 239.88h0.55v7.42h-0.55zM519.05 240.3h0.55v7h-0.55zM520.29 218.87h0.55v28.43h-0.55zM520.91 234.06h0.55v13.24h-0.55zM521.53 239.49h0.55v7.81h-0.55zM522.15 235.59h0.55v11.71h-0.55zM523.39 245.41h0.55v1.89h-0.55zM525.87 241.46h0.55v5.84h-0.55zM526.49 233.83h0.55v13.47h-0.55zM528.97 230.32h0.55v16.98h-0.55zM530.83 244.83h0.55v2.47h-0.55zM533.31 234.07h0.55v13.23h-0.55zM534.55 209.7h0.55v37.6h-0.55zM535.79 235.07h0.55v12.23h-0.55zM536.41 236.46h0.55v10.84h-0.55zM537.65 241.95h0.55v5.35h-0.55zM538.89 244.42h0.55v2.88h-0.55zM541.37 209.09h0.55v38.21h-0.55zM541.99 222.9h0.55v24.4h-0.55zM542.61 232.42h0.55v14.88h-0.55z" fill="#c65f5f" fill-opacity="0.25"/>
<path d="M112 91.3H549" stroke="#d6dde5" stroke-width="0.9"/>
<path d="M112.6 162.35V164.69M114.46 161.5V164.36M115.7 160.54V164.87M116.32 161.54V162.82M118.8 162.82V165.52M120.66 163.61V168.56M121.9 164.3V165.99M123.14 166.67V168.92M125.62 170.14V171.28M126.86 170.91V172.46M128.1 171.55V172.95M128.72 170.16V173.75M129.34 169.16V172.51M129.96 168.9V170.51M130.58 165.75V171.27M131.82 166.91V168.86M133.06 167.66V169.19M133.68 167.42V169.86M134.3 165.11V168.12M135.54 165.84V169.3M136.16 163.71V166.84M136.78 163.28V165.9M138.02 165.83V168.1M138.64 164.32V166.53M139.88 164.98V168.26M141.74 167.28V169.87M142.36 166.04V168.83M143.6 163.5V167.56M144.22 162.51V164.79M144.84 160.5V165.62M146.08 157.13V163.68M147.94 161.24V164.01M149.18 165.77V167.55M149.8 164.66V167.54M151.66 165.67V169.59M152.28 164.67V167.03M153.52 166.75V168.39M157.86 174.81V176.89M159.72 175.56V179.7M160.96 176.45V178.95M161.58 175.08V178.86M162.82 176.27V177.24M163.44 175.25V177.01M164.68 177.08V178.92M165.3 176.88V177.34M166.54 175.88V179.33M168.4 176.13V177.31M169.02 176.03V177.67M169.64 171.98V177.6M171.5 172.13V175.63M172.12 170.87V174.62M172.74 170.31V172M173.98 169.5V172.99M175.22 170.03V172.85M175.84 169.07V172.04M177.08 169.4V171.09M179.56 169.05V173.16M182.04 168.35V171.94M182.66 168.36V169.97M184.52 168.27V172.19M187 169.5V171.38M189.48 170.84V172.53M190.72 172.4V173.76M191.96 170.94V174.45M193.2 172.36V174.76M193.82 172.21V173.6M194.44 172.49V173.21M195.68 173.18V174.99M196.3 172.8V175.77M198.16 173.49V175.8M199.4 172.07V174.58M200.02 170.26V173.65M201.26 168.42V172.08M201.88 168.6V170.2M203.12 169.34V170.78M203.74 167.95V169.71M204.98 165.44V169M206.22 167.81V171.24M206.84 166.51V168.39M208.7 165.78V168.15M209.94 164.91V168.26M211.18 163.77V165.76M212.42 163.58V166.56M213.66 163.61V168M215.52 162.89V166.1M216.76 162.7V167.8M218 162.06V164.18M219.24 162.69V164.36M220.48 161.32V164.67M221.1 161.59V163.5M222.34 159.71V164.71M223.58 159.53V163.32M224.2 157.51V160.92M224.82 155.32V157.91M225.44 154.83V157.16M226.06 154.25V156.78M227.92 151.78V155.26M229.78 153.5V156.05M230.4 150.72V154.33M232.26 151.52V152.6M232.88 151.47V152.86M234.12 149.88V152.38M234.74 147.41V150.38M236.6 148.46V151.96M237.22 146.68V149.83M239.08 148.15V151.78M239.7 147.41V148.6M240.32 144.57V149.25M241.56 140.46V145.1M242.8 140.17V143.01M243.42 136.6V141.34M244.04 135.86V137.17M244.66 132.47V139.62M245.28 132.46V134.83M245.9 129.05V134.55M247.14 128.32V135.49M247.76 122.39V129.84M248.38 119.51V125.38M249 119.07V120.29M249.62 114.04V120.38M252.1 119.36V123.54M255.82 129.17V133.23M258.3 134.06V138.5M259.54 134.21V139.59M260.78 139.04V144.1M261.4 135.44V140.46M262.64 132.23V137.52M263.26 129.86V133.02M264.5 131.92V138.07M265.74 136.9V140.15M266.36 136.04V137.6M266.98 130.74V137M268.84 133.58V137.9M269.46 130.46V135.49M270.08 128V132.54M271.32 129.72V133.07M271.94 130.67V132.96M273.8 133.11V137.65M276.28 139.88V142.39M280 165.47V171.43M281.24 166.74V170.91M281.86 158.3V167.32M283.1 155.72V159.86M283.72 156.29V157.89M284.34 155.69V157.54M287.44 158.1V163.96M288.68 158.75V162.73M289.3 158.39V161.58M289.92 155.39V163.05M291.16 150.61V157.65M291.78 149.69V152.64M292.4 141.84V150.12M293.64 140.62V143.43M294.26 134.78V141.8M295.5 134.19V138.43M296.74 138.05V139.18M297.36 137.42V139.79M299.84 136.83V143.15M301.7 141.03V143.41M302.32 135.93V143.05M302.94 134.32V138.16M304.18 135.11V139.88M304.8 134.75V137.17M305.42 126.65V138.25M306.66 125.24V129.04M307.28 120.21V128.33M308.52 122.81V127.2M309.14 120.15V125.67M310.38 115.59V127.06M312.24 115.62V120.64M312.86 111.99V116.09M313.48 112.39V139M314.1 109.25V114.87M319.68 119.93V125.39M320.92 121.76V125.25M322.78 123.64V129.08M324.64 128.08V131.06M325.88 129.28V131.56M327.12 127.29V135.37M328.36 125.36V134.95M329.6 128.8V131.43M333.32 135.14V137.9M334.56 137.87V143.28M335.18 134.62V143.63M337.04 138.75V147.62M337.66 140V141.53M343.24 173.77V183.55M343.86 170.22V175.78M344.48 162.18V173.16M346.96 185.31V191.91M348.2 193.23V200.15M349.44 190.57V204.37M350.06 184.93V191.12M353.16 211.73V222.01M353.78 202.21V213.67M354.4 203.73V208.66M355.02 200.01V205.79M358.12 211.64V219.83M359.36 208.32V218.2M359.98 200.14V213.1M360.6 190.31V202.98M361.22 185.52V191.26M361.84 182.3V187.35M363.7 190.02V192.88M369.28 212.83V217.91M370.52 212.54V217.18M371.76 212.75V218.44M373 213.62V217.16M373.62 213.14V216.65M376.1 218.45V223.76M376.72 211.82V220.69M377.34 209.31V217.18M378.58 204.71V210.53M379.2 198.9V206.62M382.3 211.5V216.79M382.92 204.55V213.18M383.54 205.18V207.67M385.4 206.89V212.3M386.02 194.13V210.39M386.64 186.25V195.9M387.26 185.74V191.6M387.88 178.33V188.34M388.5 175.66V181.5M389.12 170.72V178.86M389.74 168.45V174.74M390.36 162.44V171.28M390.98 157.6V165.71M391.6 147.46V159.41M392.22 133.27V151.37M392.84 117V137.17M394.7 123.01V129.86M395.32 117.25V125.85M399.04 138.55V140.7M401.52 145.52V146.73M402.14 140.45V145.62M402.76 138.55V145.62M405.24 146.64V152.49M405.86 139.49V147.44M406.48 132.89V141.58M407.1 127.95V135.08M407.72 126.6V128.88M410.82 136.96V139.83M412.06 137.51V140.21M413.3 136.52V139.18M414.54 132.52V139.36M415.16 132.31V133.74M415.78 128.46V135.29M416.4 129.78V132.39M417.02 128.32V131.13M418.26 135.92V138.49M420.12 137.37V140.14M421.36 139.17V143.59M421.98 138.12V140.93M428.8 156.06V158.05M431.28 158.41V165.95M433.76 165.48V166.44M434.38 160.81V166.05M435 160.78V166.01M435.62 161.93V165.71M436.24 160.84V164.75M436.86 157.99V162.08M437.48 157.12V159.34M438.1 153.12V158.29M438.72 148.57V155.79M439.96 149.16V153.79M440.58 148.04V151.05M441.2 143.65V148.52M441.82 142.6V146.2M442.44 140.37V145.18M443.68 138.28V143.47M445.54 148.09V151.13M446.16 144.66V148.75M447.4 141.85V147.76M448.02 139.76V144.38M448.64 137.55V143.26M449.26 134.78V140.16M449.88 135.86V138.45M451.12 135.03V140.87M452.36 132.45V138.8M452.98 125.97V133.67M453.6 125.84V132.63M454.22 121.41V127.59M454.84 110.36V124.12M455.46 109.37V118.57M456.08 103.87V113.98M456.7 94.66V105.07M457.32 93.5V97.99M461.66 111V115.84M464.14 121.16V125.67M464.76 117.79V127.74M466 121.66V125.19M466.62 122.91V123.56M467.24 118.99V124.03M469.1 119.86V122.78M470.34 120.91V124.99M470.96 118.24V123.92M471.58 117.63V121.5M472.2 110.55V120.45M473.44 106.09V113.45M474.06 107.01V111.23M474.68 96.8V108.48M475.3 92.6V100.44M475.92 88.69V94.57M477.16 89.53V93.33M478.4 98.06V101.04M479.02 95.34V99.19M480.26 89.74V98.94M481.5 89.53V93.91M482.12 86.37V92.43M482.74 81.16V88.95M483.36 78.31V83.64M483.98 72.22V79.4M485.22 71.53V83.9M488.32 75.31V82.48M488.94 72.18V80.13M491.42 84.6V87.93M493.28 89.98V91.98M495.76 93.65V95.53M496.38 91.7V94.59M497 91.82V96.2M497.62 89.36V93.13M498.86 85V94.27M500.72 85.45V89.98M506.3 103.7V106.75M509.4 105.28V110.97M510.64 111.33V115.24M513.12 117.18V119.79M514.36 115.59V120.37M514.98 116.1V118.95M515.6 113.12V118.7M516.22 106.23V115.18M516.84 106.17V111.96M517.46 106.19V106.5M518.7 104.17V108.48M519.94 107.58V110.88M523.04 115.51V124.38M524.28 114.63V119.47M524.9 110.01V117.45M525.52 104.71V113.73M527.38 106.26V109.94M528 102.66V108.24M528.62 98.88V105.18M529.86 96.65V101.32M530.48 96.25V98.19M531.72 96.97V100.96M532.34 93.49V98.97M532.96 86.02V96.87M534.2 87.86V90.24M535.44 83.1V90.43M537.3 87.75V90.37M538.54 84.09V91.39M539.78 85.83V90.61M540.4 85.18V86.6M541.02 84.92V86.65M543.5 93.2V98.53M544.12 91.15V95.31M544.74 88.67V95.26" stroke="#3f877b" stroke-width="0.7" fill="none"/>
<path d="M113.22 161.54V163.24M113.84 162.24V165M115.08 161.26V164.71M116.94 162.22V163.72M117.56 163.07V164.99M118.18 162.52V164.86M119.42 162.3V164.77M120.04 164.55V168.72M121.28 163.53V165.38M122.52 164.35V168.99M123.76 167.38V170.4M124.38 169.19V170.5M125 169.43V172.25M126.24 170.44V172.28M127.48 170.48V173.19M131.2 167.2V168.65M132.44 166.39V168.56M134.92 164.45V167.26M137.4 163.1V166.59M139.26 164.16V168M140.5 165.09V168.1M141.12 167.74V169.42M142.98 164.98V167.57M145.46 161.22V162.87M146.7 159.99V164.46M147.32 161.26V163.47M148.56 161V168.02M150.42 164.17V166.14M151.04 165.46V168.56M152.9 164.11V168.29M154.14 165.36V168.86M154.76 167.44V170.52M155.38 169.95V173.47M156 172.25V175.94M156.62 173.62V176.38M157.24 174.36V176.97M158.48 175.05V178.85M159.1 177.3V181.06M160.34 176.97V178.45M162.2 175.64V177.26M164.06 175.88V178.66M165.92 176.36V178.14M167.16 176.12V177.68M167.78 176.15V177.26M170.26 172.64V174.26M170.88 173.48V174.93M173.36 170.75V172.19M174.6 168.54V174.89M176.46 169.99V171.35M177.7 169.75V171.63M178.32 170.82V172.13M178.94 171.03V172.82M180.18 168.23V169.63M180.8 169.17V170.93M181.42 170.38V172.7M183.28 167.13V171.16M183.9 169.66V171.38M185.14 168.37V168.79M185.76 168.46V171.44M186.38 169.21V170.89M187.62 167.87V170.69M188.24 169.16V171.39M188.86 169.97V173.82M190.1 170.54V173.75M191.34 172.29V174.03M192.58 171.16V174.57M195.06 171.88V175.42M196.92 172.45V175.06M197.54 173.63V178.81M198.78 173.78V174.87M200.64 171.29V172.8M202.5 168.52V170.09M204.36 167.86V170.28M205.6 164.96V171.82M207.46 166.08V168.96M208.08 166.43V167.71M209.32 165.95V167.82M210.56 164.74V166.44M211.8 163.41V165.78M213.04 162.83V167.62M214.28 163.36V165.59M214.9 164.21V165.91M216.14 163.44V167.63M217.38 162.4V163.99M218.62 162.4V164.77M219.86 163.31V163.95M221.72 162.68V163.97M222.96 160.37V162.95M226.68 154.4V155.24M227.3 154.4V156.51M228.54 150.85V154.15M229.16 153.13V156.86M231.02 149.39V152.14M231.64 151.65V153.02M233.5 150.88V152.38M235.36 148.96V151.81M235.98 150.07V152.76M237.84 147.2V148.81M238.46 146.92V152.73M240.94 143.12V145.35M242.18 141.36V144.71M246.52 128.64V135.37M250.24 112.49V115.73M250.86 114.83V120.33M251.48 117.04V123.69M252.72 118.48V123.9M253.34 121.23V124.31M253.96 122.04V126.83M254.58 125.16V131.7M255.2 128.42V132.07M256.44 129.44V135.66M257.06 132.33V135.12M257.68 134.22V137.96M258.92 136.08V138.84M260.16 134.1V142.41M262.02 133.74V137.53M263.88 129.27V137.08M265.12 132.86V140.93M267.6 129.94V145M268.22 134.29V138.2M270.7 129.15V133.14M272.56 129.04V135.13M273.18 133.81V138.01M274.42 132.67V137.98M275.04 136.84V141.27M275.66 137.6V143.04M276.9 139.61V149.6M277.52 148.63V150.81M278.14 148.64V154.46M278.76 151.9V157.5M279.38 155.87V175M280.62 167.43V171.38M282.48 158.65V160.92M284.96 155.36V161.37M285.58 158.24V162.33M286.2 158.96V162.58M286.82 159.31V163.3M288.06 156.17V162.24M290.54 155.71V157.31M293.02 143.02V144.49M294.88 134.58V138.1M296.12 133.17V139.43M297.98 135.66V138.07M298.6 135.26V140.49M299.22 139.3V140.75M300.46 137.08V141.98M301.08 140.16V143.69M303.56 134.62V139.11M306.04 127.1V128.94M307.9 120.35V128.18M309.76 118.72V125.94M311 114.49V117.86M311.62 117.27V120.55M314.72 110.49V112.75M315.34 111.27V116.96M315.96 115.37V117.23M316.58 114.78V120.44M317.2 119.53V131M317.82 119.89V123.17M318.44 122.34V124.71M319.06 122.89V126.37M320.3 118.98V124.27M321.54 120.03V127.96M322.16 126.08V127.49M323.4 122.53V128.88M324.02 127.15V129.96M325.26 126.94V131.7M326.5 127.24V135.03M327.74 129.6V135.24M328.98 125.35V132.79M330.22 128.55V130.03M330.84 127.63V132.25M331.46 130.55V131.74M332.08 130.75V137.26M332.7 132.09V138.71M333.94 134.39V142.88M335.8 136.55V141.88M336.42 139.56V144.64M338.28 135.66V148.6M338.9 147.51V158.4M339.52 155.26V162.82M340.14 160.21V171.8M340.76 166.24V171M341.38 168.6V174.46M342 171.22V180.86M342.62 175.13V186.21M345.1 166.02V172.95M345.72 168.65V178.13M346.34 175.78V188.23M347.58 184.81V198.14M348.82 193.76V205.87M350.68 184.92V195.89M351.3 191.2V203.68M351.92 198.6V213.65M352.54 212.92V229M355.64 198.29V210M356.26 203.32V213.85M356.88 211.18V216.29M357.5 213.35V220.06M358.74 210.06V218.54M362.46 179.11V189.18M363.08 187.8V192.66M364.32 191.05V201.33M364.94 194V203.22M365.56 198.08V202.62M366.18 196.23V204.12M366.8 201.45V207.06M367.42 201.99V207.75M368.04 206.6V211M368.66 207.26V216.83M369.9 211.65V218.64M371.14 213.74V218.84M372.38 211.86V216.67M374.24 213.47V216.92M374.86 212.39V224.59M375.48 219.87V223.78M377.96 208.01V212.13M379.82 199.43V205.61M380.44 203.2V208.78M381.06 207.21V213.56M381.68 208.78V214.32M384.16 205.09V211.38M384.78 204.77V211.56M393.46 119.69V129.01M394.08 126.45V130.1M395.94 115.5V123.98M396.56 119.02V127.34M397.18 122.61V131.18M397.8 128.4V132.03M398.42 130.25V140.54M399.66 138.24V143.93M400.28 142.34V144.75M400.9 143.83V146.86M403.38 137.79V143.06M404 140.01V145.32M404.62 143.49V153.6M408.34 126.94V130.17M408.96 128.42V135.61M409.58 134.01V137.13M410.2 132.54V138.27M411.44 135.47V139.07M412.68 135.47V140.15M413.92 135.88V139.66M417.64 127.45V140.6M418.88 133.72V137.71M419.5 136.72V139.5M420.74 136.9V144.49M422.6 137.8V141.89M423.22 141.27V142.76M423.84 141.59V146.29M424.46 145.34V145.79M425.08 145.14V146.63M425.7 145.47V148.65M426.32 145.89V148.93M426.94 147.3V152.94M427.56 151.6V160.91M428.18 154.5V160.56M429.42 154.33V158.3M430.04 155.71V159.72M430.66 155.68V169.66M431.9 158.51V162.12M432.52 161.53V165.69M433.14 163.29V168M439.34 150.22V153.62M443.06 140.58V143.35M444.3 138.04V150.36M444.92 144.98V153.23M446.78 144.29V147.31M450.5 135.28V141.63M451.74 134.78V138.82M457.94 94.67V101.49M458.56 96.8V105.5M459.18 102.92V108.97M459.8 105.95V111.92M460.42 109.69V115.39M461.04 110.77V116.46M462.28 113.4V119.46M462.9 117.56V121.16M463.52 118.58V124.43M465.38 119.48V126.57M467.86 118.22V121.83M468.48 119.62V122.82M469.72 119.62V125.56M472.82 108.13V113.41M476.54 89.71V93.31M477.78 90.39V101.13M479.64 93.83V98.64M480.88 91.67V94.43M484.6 76.37V79.79M485.84 72.47V79.91M486.46 77.11V83.64M487.08 77.54V80.16M487.7 79.15V81.29M489.56 69.55V78.42M490.18 74.05V82.4M490.8 80.96V88.93M492.04 84.71V90.42M492.66 88.39V92.11M493.9 90.27V92.25M494.52 90.82V92.29M495.14 90.33V95.62M498.24 87.19V92.91M499.48 85.93V88.8M500.1 85.65V91.28M501.34 83.25V89.59M501.96 85.74V90.09M502.58 86.35V89.4M503.2 88.72V91.53M503.82 90.41V98.87M504.44 96.45V99.52M505.06 96.53V102.79M505.68 101.17V108.05M506.92 104.5V106.71M507.54 104.66V108.07M508.16 106.17V109.7M508.78 107.93V109.62M510.02 106.58V115.48M511.26 110.06V118.19M511.88 117.7V118.45M512.5 117.97V120.83M513.74 114.56V121.47M518.08 104.73V110.07M519.32 103.06V110.36M520.56 108.23V114.45M521.18 112.21V119.29M521.8 115.66V127.6M522.42 120.22V127.56M523.66 113.92V119.76M526.14 105.81V109.84M526.76 106.55V109.61M529.24 99.21V102.68M531.1 96.26V99.74M533.58 86.44V89.3M534.82 86.25V90.51M536.06 81.42V88.73M536.68 87.28V88.8M537.92 87.85V89.52M539.16 85.54V90.01M541.64 84.93V89.77M542.26 88.4V95.43M542.88 92.39V96.85" stroke="#c65f5f" stroke-width="0.7" fill="none"/>
<path d="M112.3 162.67h0.6v1.16h-0.6zM114.16 162.11h0.6v1.85h-0.6zM115.4 162.74h0.6v1.89h-0.6zM116.02 162.52h0.6v0.5h-0.6zM118.5 162.97h0.6v1.29h-0.6zM120.36 163.85h0.6v4.14h-0.6zM121.6 164.78h0.6v0.51h-0.6zM122.84 167.49h0.6v0.91h-0.6zM125.32 170.62h0.6v0.5h-0.6zM126.56 171.78h0.6v0.5h-0.6zM127.8 172.22h0.6v0.5h-0.6zM128.42 170.82h0.6v1.4h-0.6zM129.04 169.76h0.6v1.06h-0.6zM129.66 169.74h0.6v0.5h-0.6zM130.28 167.85h0.6v1.89h-0.6zM131.52 167.01h0.6v1.53h-0.6zM132.76 168.32h0.6v0.5h-0.6zM133.38 167.67h0.6v0.65h-0.6zM134 165.32h0.6v2.35h-0.6zM135.24 165.97h0.6v1.28h-0.6zM135.86 165.71h0.6v0.5h-0.6zM136.48 163.64h0.6v2.07h-0.6zM137.72 165.9h0.6v0.59h-0.6zM138.34 164.73h0.6v1.17h-0.6zM139.58 165.59h0.6v2.14h-0.6zM141.44 167.65h0.6v1.48h-0.6zM142.06 166.24h0.6v1.41h-0.6zM143.3 164.57h0.6v2.84h-0.6zM143.92 164.4h0.6v0.5h-0.6zM144.54 162.62h0.6v1.78h-0.6zM145.78 160.15h0.6v2.57h-0.6zM147.64 162.03h0.6v0.92h-0.6zM148.88 166.51h0.6v0.5h-0.6zM149.5 165.26h0.6v1.25h-0.6zM151.36 165.78h0.6v2.67h-0.6zM151.98 165.27h0.6v0.5h-0.6zM153.22 166.83h0.6v1.24h-0.6zM157.56 175.43h0.6v0.87h-0.6zM159.42 177.63h0.6v1.98h-0.6zM160.66 177.33h0.6v0.91h-0.6zM161.28 175.75h0.6v1.58h-0.6zM162.52 176.45h0.6v0.61h-0.6zM163.14 176.35h0.6v0.5h-0.6zM164.38 177.13h0.6v1.48h-0.6zM165 177.05h0.6v0.5h-0.6zM166.24 176.66h0.6v0.6h-0.6zM168.1 176.66h0.6v0.53h-0.6zM168.72 176.38h0.6v0.5h-0.6zM169.34 172.95h0.6v3.43h-0.6zM171.2 173.49h0.6v0.78h-0.6zM171.82 171.66h0.6v1.82h-0.6zM172.44 171.23h0.6v0.5h-0.6zM173.68 170.38h0.6v1.53h-0.6zM174.92 171.54h0.6v0.95h-0.6zM175.54 170.81h0.6v0.73h-0.6zM176.78 169.86h0.6v1.02h-0.6zM179.26 169.19h0.6v3.24h-0.6zM181.74 169.17h0.6v2.15h-0.6zM182.36 168.69h0.6v0.5h-0.6zM184.22 168.53h0.6v2.64h-0.6zM186.7 169.8h0.6v0.69h-0.6zM189.18 170.96h0.6v1.13h-0.6zM190.42 172.59h0.6v0.95h-0.6zM191.66 171.91h0.6v1.4h-0.6zM192.9 172.95h0.6v0.88h-0.6zM193.52 172.85h0.6v0.5h-0.6zM194.14 172.58h0.6v0.5h-0.6zM195.38 174.16h0.6v0.5h-0.6zM196 172.9h0.6v1.26h-0.6zM197.86 173.8h0.6v1.9h-0.6zM199.1 172.88h0.6v1.59h-0.6zM199.72 171.36h0.6v1.52h-0.6zM200.96 168.85h0.6v3.15h-0.6zM201.58 168.65h0.6v0.5h-0.6zM202.82 169.5h0.6v0.5h-0.6zM203.44 168.41h0.6v1.09h-0.6zM204.68 165.79h0.6v3.03h-0.6zM205.92 168.27h0.6v2.08h-0.6zM206.54 166.6h0.6v1.67h-0.6zM208.4 165.96h0.6v1.69h-0.6zM209.64 165.4h0.6v1.16h-0.6zM210.88 165.37h0.6v0.5h-0.6zM212.12 163.94h0.6v1.79h-0.6zM213.36 163.7h0.6v3.4h-0.6zM215.22 163.85h0.6v2.01h-0.6zM216.46 163.68h0.6v3.25h-0.6zM217.7 163.5h0.6v0.5h-0.6zM218.94 163.6h0.6v0.5h-0.6zM220.18 163.26h0.6v0.5h-0.6zM220.8 162.72h0.6v0.54h-0.6zM222.04 160.94h0.6v2.9h-0.6zM223.28 160.04h0.6v2.37h-0.6zM223.9 157.71h0.6v2.33h-0.6zM224.52 156.51h0.6v1.2h-0.6zM225.14 155.38h0.6v1.13h-0.6zM225.76 154.55h0.6v0.84h-0.6zM227.62 153h0.6v2.26h-0.6zM229.48 154.16h0.6v1.77h-0.6zM230.1 151.03h0.6v3.13h-0.6zM231.96 151.61h0.6v0.7h-0.6zM232.58 151.56h0.6v0.5h-0.6zM233.82 150.35h0.6v1.84h-0.6zM234.44 149.63h0.6v0.72h-0.6zM236.3 149.06h0.6v2.41h-0.6zM236.92 147.87h0.6v1.18h-0.6zM238.78 148.24h0.6v3.39h-0.6zM239.4 147.78h0.6v0.5h-0.6zM240.02 144.69h0.6v3.1h-0.6zM241.26 141.44h0.6v3.4h-0.6zM242.5 140.46h0.6v1.92h-0.6zM243.12 136.71h0.6v3.75h-0.6zM243.74 136.32h0.6v0.5h-0.6zM244.36 134.76h0.6v1.57h-0.6zM244.98 133.98h0.6v0.78h-0.6zM245.6 130.22h0.6v3.76h-0.6zM246.84 129.76h0.6v5.12h-0.6zM247.46 123.44h0.6v6.32h-0.6zM248.08 119.96h0.6v3.47h-0.6zM248.7 119.64h0.6v0.5h-0.6zM249.32 114.2h0.6v5.44h-0.6zM251.8 119.74h0.6v2.71h-0.6zM255.52 130.19h0.6v0.97h-0.6zM258 136.37h0.6v1.43h-0.6zM259.24 135.89h0.6v2.72h-0.6zM260.48 139.48h0.6v2.32h-0.6zM261.1 135.75h0.6v3.72h-0.6zM262.34 132.3h0.6v4.82h-0.6zM262.96 131.08h0.6v1.22h-0.6zM264.2 133.37h0.6v2.19h-0.6zM265.44 137.36h0.6v1.41h-0.6zM266.06 136.41h0.6v0.95h-0.6zM266.68 131.34h0.6v5.08h-0.6zM268.54 134.9h0.6v2.86h-0.6zM269.16 131.89h0.6v3.02h-0.6zM269.78 129.54h0.6v2.35h-0.6zM271.02 131.92h0.6v0.5h-0.6zM271.64 131.12h0.6v0.8h-0.6zM273.5 136.02h0.6v0.53h-0.6zM275.98 140.17h0.6v1.56h-0.6zM279.7 168.84h0.6v2.41h-0.6zM280.94 166.76h0.6v2.66h-0.6zM281.56 159.28h0.6v7.48h-0.6zM282.8 157.53h0.6v1.81h-0.6zM283.42 157.23h0.6v0.5h-0.6zM284.04 156.22h0.6v1.01h-0.6zM287.14 159.77h0.6v3.07h-0.6zM288.38 160.56h0.6v0.79h-0.6zM289 158.66h0.6v1.91h-0.6zM289.62 156h0.6v2.65h-0.6zM290.86 151.4h0.6v4.99h-0.6zM291.48 150.08h0.6v1.32h-0.6zM292.1 143.17h0.6v6.91h-0.6zM293.34 141.24h0.6v1.98h-0.6zM293.96 135.08h0.6v6.17h-0.6zM295.2 134.81h0.6v2.3h-0.6zM296.44 138.46h0.6v0.5h-0.6zM297.06 137.73h0.6v0.73h-0.6zM299.54 138.14h0.6v2.48h-0.6zM301.4 142.14h0.6v0.5h-0.6zM302.02 136.08h0.6v6.06h-0.6zM302.64 135.68h0.6v0.5h-0.6zM303.88 136.56h0.6v1.51h-0.6zM304.5 134.89h0.6v1.67h-0.6zM305.12 127.8h0.6v7.09h-0.6zM306.36 127.26h0.6v0.72h-0.6zM306.98 123.21h0.6v4.06h-0.6zM308.22 125.24h0.6v0.5h-0.6zM308.84 121.23h0.6v4.01h-0.6zM310.08 117.61h0.6v7.5h-0.6zM311.94 115.8h0.6v3.91h-0.6zM312.56 115.57h0.6v0.5h-0.6zM313.18 113.49h0.6v2.08h-0.6zM313.8 110.76h0.6v2.73h-0.6zM319.38 120.38h0.6v3.4h-0.6zM320.62 123.13h0.6v0.5h-0.6zM322.48 123.88h0.6v3.09h-0.6zM324.34 128.1h0.6v0.64h-0.6zM325.58 130.78h0.6v0.73h-0.6zM326.82 130.07h0.6v2.75h-0.6zM328.06 126.78h0.6v5.84h-0.6zM329.3 128.81h0.6v2.57h-0.6zM333.02 135.35h0.6v1.4h-0.6zM334.26 139.35h0.6v2.8h-0.6zM334.88 139.16h0.6v0.5h-0.6zM336.74 140.46h0.6v3.89h-0.6zM337.36 140.25h0.6v0.5h-0.6zM342.94 174.74h0.6v8.17h-0.6zM343.56 171.65h0.6v3.09h-0.6zM344.18 166.08h0.6v5.57h-0.6zM346.66 186.17h0.6v2.02h-0.6zM347.9 194.3h0.6v3.84h-0.6zM349.14 190.72h0.6v12.6h-0.6zM349.76 186.2h0.6v4.52h-0.6zM352.86 211.73h0.6v7.47h-0.6zM353.48 206.15h0.6v5.58h-0.6zM354.1 204.86h0.6v1.3h-0.6zM354.72 202.14h0.6v2.71h-0.6zM357.82 213.46h0.6v6.11h-0.6zM359.06 209.78h0.6v6.64h-0.6zM359.68 201.98h0.6v7.8h-0.6zM360.3 191.14h0.6v10.84h-0.6zM360.92 186.14h0.6v5h-0.6zM361.54 182.54h0.6v3.6h-0.6zM363.4 191.44h0.6v0.5h-0.6zM368.98 214.41h0.6v0.5h-0.6zM370.22 214.49h0.6v1.59h-0.6zM371.46 215.12h0.6v2.48h-0.6zM372.7 214.73h0.6v1.8h-0.6zM373.32 213.88h0.6v0.85h-0.6zM375.8 220.33h0.6v2.65h-0.6zM376.42 215.27h0.6v5.06h-0.6zM377.04 210.24h0.6v5.02h-0.6zM378.28 205.43h0.6v5.01h-0.6zM378.9 199.88h0.6v5.54h-0.6zM382 212.15h0.6v1.29h-0.6zM382.62 205.75h0.6v6.4h-0.6zM383.24 205.7h0.6v0.5h-0.6zM385.1 207.17h0.6v2.81h-0.6zM385.72 194.83h0.6v12.34h-0.6zM386.34 190.91h0.6v3.92h-0.6zM386.96 186.37h0.6v4.54h-0.6zM387.58 179.27h0.6v7.1h-0.6zM388.2 176.86h0.6v2.41h-0.6zM388.82 171.97h0.6v4.89h-0.6zM389.44 170.04h0.6v1.93h-0.6zM390.06 163.39h0.6v6.65h-0.6zM390.68 159.26h0.6v4.12h-0.6zM391.3 150.08h0.6v9.19h-0.6zM391.92 134.86h0.6v15.22h-0.6zM392.54 121.68h0.6v13.18h-0.6zM394.4 125h0.6v3.26h-0.6zM395.02 120.12h0.6v4.88h-0.6zM398.74 138.8h0.6v0.58h-0.6zM401.22 145.53h0.6v0.5h-0.6zM401.84 142.79h0.6v2.74h-0.6zM402.46 139.22h0.6v3.57h-0.6zM404.94 147.32h0.6v3.96h-0.6zM405.56 141.57h0.6v5.75h-0.6zM406.18 133.86h0.6v7.71h-0.6zM406.8 128.05h0.6v5.81h-0.6zM407.42 127.5h0.6v0.55h-0.6zM410.52 137.01h0.6v0.9h-0.6zM411.76 137.82h0.6v0.99h-0.6zM413 138.05h0.6v0.5h-0.6zM414.24 133.63h0.6v4.62h-0.6zM414.86 133.33h0.6v0.5h-0.6zM415.48 131.75h0.6v1.58h-0.6zM416.1 129.94h0.6v1.81h-0.6zM416.72 129.41h0.6v0.53h-0.6zM417.96 136.26h0.6v1.91h-0.6zM419.82 137.86h0.6v1.31h-0.6zM421.06 140.74h0.6v0.84h-0.6zM421.68 139.7h0.6v1.04h-0.6zM428.5 156.22h0.6v1.27h-0.6zM430.98 159.47h0.6v6.33h-0.6zM433.46 165.55h0.6v0.66h-0.6zM434.08 163.69h0.6v1.87h-0.6zM434.7 163.29h0.6v0.5h-0.6zM435.32 163.21h0.6v0.5h-0.6zM435.94 160.91h0.6v2.3h-0.6zM436.56 158.32h0.6v2.59h-0.6zM437.18 157.3h0.6v1.02h-0.6zM437.8 154.29h0.6v3.01h-0.6zM438.42 151h0.6v3.29h-0.6zM439.66 149.95h0.6v2.64h-0.6zM440.28 148.1h0.6v1.85h-0.6zM440.9 145.66h0.6v2.44h-0.6zM441.52 143.3h0.6v2.36h-0.6zM442.14 141.74h0.6v1.56h-0.6zM443.38 139.19h0.6v3.36h-0.6zM445.24 148.4h0.6v1.13h-0.6zM445.86 145.62h0.6v2.79h-0.6zM447.1 143.22h0.6v3.64h-0.6zM447.72 140.79h0.6v2.43h-0.6zM448.34 138.41h0.6v2.38h-0.6zM448.96 136.16h0.6v2.25h-0.6zM449.58 135.93h0.6v0.5h-0.6zM450.82 136.45h0.6v3.56h-0.6zM452.06 132.49h0.6v5.11h-0.6zM452.68 127.74h0.6v4.75h-0.6zM453.3 126.22h0.6v1.52h-0.6zM453.92 121.52h0.6v4.7h-0.6zM454.54 115.12h0.6v6.39h-0.6zM455.16 112.74h0.6v2.38h-0.6zM455.78 103.94h0.6v8.81h-0.6zM456.4 97.41h0.6v6.52h-0.6zM457.02 96.38h0.6v1.03h-0.6zM461.36 114.27h0.6v0.52h-0.6zM463.84 123.51h0.6v0.5h-0.6zM464.46 120.07h0.6v3.44h-0.6zM465.7 123.44h0.6v0.98h-0.6zM466.32 123.16h0.6v0.5h-0.6zM466.94 120.16h0.6v3h-0.6zM468.8 120.4h0.6v1.8h-0.6zM470.04 123.33h0.6v1.59h-0.6zM470.66 119.73h0.6v3.6h-0.6zM471.28 118.98h0.6v0.74h-0.6zM471.9 111.88h0.6v7.11h-0.6zM473.14 108.11h0.6v5.15h-0.6zM473.76 107.71h0.6v0.5h-0.6zM474.38 99.8h0.6v7.9h-0.6zM475 94.03h0.6v5.78h-0.6zM475.62 90.82h0.6v3.21h-0.6zM476.86 90.94h0.6v1.74h-0.6zM478.1 98.51h0.6v1.58h-0.6zM478.72 96.6h0.6v1.91h-0.6zM479.96 92.45h0.6v4.53h-0.6zM481.2 90.23h0.6v2.42h-0.6zM481.82 88.67h0.6v1.56h-0.6zM482.44 82.62h0.6v6.05h-0.6zM483.06 78.61h0.6v4.01h-0.6zM483.68 76.44h0.6v2.17h-0.6zM484.92 73.18h0.6v5.53h-0.6zM488.02 77.28h0.6v3.36h-0.6zM488.64 72.24h0.6v5.04h-0.6zM491.12 86.48h0.6v1.01h-0.6zM492.98 90.47h0.6v0.5h-0.6zM495.46 94.24h0.6v0.76h-0.6zM496.08 93.57h0.6v0.67h-0.6zM496.7 93.01h0.6v0.55h-0.6zM497.32 89.56h0.6v3.46h-0.6zM498.56 86.06h0.6v6.61h-0.6zM500.42 85.91h0.6v3.01h-0.6zM506 105.2h0.6v1.08h-0.6zM509.1 107.47h0.6v2.11h-0.6zM510.34 112.64h0.6v1.87h-0.6zM512.82 118.39h0.6v0.87h-0.6zM514.06 116.79h0.6v2.4h-0.6zM514.68 116.63h0.6v0.5h-0.6zM515.3 114.04h0.6v2.59h-0.6zM515.92 109.59h0.6v4.45h-0.6zM516.54 106.42h0.6v3.17h-0.6zM517.16 106.33h0.6v0.5h-0.6zM518.4 104.7h0.6v3.48h-0.6zM519.64 109.14h0.6v1.2h-0.6zM522.74 116.8h0.6v7.2h-0.6zM523.98 116.82h0.6v2.26h-0.6zM524.6 111.37h0.6v5.45h-0.6zM525.22 107.85h0.6v3.52h-0.6zM527.08 106.68h0.6v1.91h-0.6zM527.7 103.88h0.6v2.8h-0.6zM528.32 100.42h0.6v3.46h-0.6zM529.56 98.01h0.6v3.14h-0.6zM530.18 97.31h0.6v0.7h-0.6zM531.42 98.1h0.6v1.1h-0.6zM532.04 95.44h0.6v2.66h-0.6zM532.66 87.55h0.6v7.89h-0.6zM533.9 88.57h0.6v0.64h-0.6zM535.14 83.91h0.6v6.08h-0.6zM537 88.35h0.6v0.5h-0.6zM538.24 86.9h0.6v2.43h-0.6zM539.48 86.6h0.6v1.08h-0.6zM540.1 86.37h0.6v0.5h-0.6zM540.72 86.06h0.6v0.5h-0.6zM543.2 95.12h0.6v1.1h-0.6zM543.82 92.36h0.6v2.75h-0.6zM544.44 90.51h0.6v1.86h-0.6z" fill="#3f877b"/>
<path d="M112.92 162.67h0.6v0.51h-0.6zM113.54 163.18h0.6v0.77h-0.6zM114.78 162.11h0.6v2.52h-0.6zM116.64 162.52h0.6v1.15h-0.6zM117.26 163.67h0.6v0.5h-0.6zM117.88 164.05h0.6v0.5h-0.6zM119.12 162.97h0.6v1.62h-0.6zM119.74 164.59h0.6v3.41h-0.6zM120.98 163.85h0.6v1.44h-0.6zM122.22 164.78h0.6v3.62h-0.6zM123.46 167.49h0.6v1.82h-0.6zM124.08 169.31h0.6v0.52h-0.6zM124.7 169.83h0.6v1.01h-0.6zM125.94 170.62h0.6v1.5h-0.6zM127.18 171.78h0.6v0.57h-0.6zM130.9 167.85h0.6v0.69h-0.6zM132.14 167.01h0.6v1.5h-0.6zM134.62 165.32h0.6v1.94h-0.6zM137.1 163.64h0.6v2.85h-0.6zM138.96 164.73h0.6v3.01h-0.6zM140.2 165.59h0.6v2.22h-0.6zM140.82 167.81h0.6v1.31h-0.6zM142.68 166.24h0.6v1.17h-0.6zM145.16 162.62h0.6v0.5h-0.6zM146.4 160.15h0.6v2.46h-0.6zM147.02 162.61h0.6v0.5h-0.6zM148.26 162.03h0.6v4.67h-0.6zM150.12 165.26h0.6v0.5h-0.6zM150.74 165.54h0.6v2.91h-0.6zM152.6 165.27h0.6v2.79h-0.6zM153.84 166.83h0.6v0.74h-0.6zM154.46 167.57h0.6v2.54h-0.6zM155.08 170.1h0.6v2.86h-0.6zM155.7 172.96h0.6v1.26h-0.6zM156.32 174.22h0.6v1.02h-0.6zM156.94 175.24h0.6v1.07h-0.6zM158.18 175.43h0.6v2.75h-0.6zM158.8 178.18h0.6v1.43h-0.6zM160.04 177.63h0.6v0.6h-0.6zM161.9 175.75h0.6v1.31h-0.6zM163.76 176.35h0.6v2.26h-0.6zM165.62 177.05h0.6v0.5h-0.6zM166.86 176.66h0.6v0.5h-0.6zM167.48 177.14h0.6v0.5h-0.6zM169.96 172.95h0.6v1.1h-0.6zM170.58 174.06h0.6v0.5h-0.6zM173.06 171.23h0.6v0.67h-0.6zM174.3 170.38h0.6v2.11h-0.6zM176.16 170.81h0.6v0.5h-0.6zM177.4 169.86h0.6v1.47h-0.6zM178.02 171.33h0.6v0.5h-0.6zM178.64 171.35h0.6v1.09h-0.6zM179.88 169.19h0.6v0.5h-0.6zM180.5 169.29h0.6v1.45h-0.6zM181.12 170.74h0.6v0.58h-0.6zM182.98 168.69h0.6v2.02h-0.6zM183.6 170.71h0.6v0.5h-0.6zM184.84 168.53h0.6v0.5h-0.6zM185.46 168.66h0.6v1.5h-0.6zM186.08 170.16h0.6v0.5h-0.6zM187.32 169.8h0.6v0.5h-0.6zM187.94 170.16h0.6v0.58h-0.6zM188.56 170.74h0.6v1.35h-0.6zM189.8 170.96h0.6v2.59h-0.6zM191.04 172.59h0.6v0.72h-0.6zM192.28 171.91h0.6v1.92h-0.6zM194.76 172.58h0.6v2h-0.6zM196.62 172.9h0.6v1.36h-0.6zM197.24 174.26h0.6v1.44h-0.6zM198.48 173.8h0.6v0.67h-0.6zM200.34 171.36h0.6v0.64h-0.6zM202.2 168.65h0.6v1.12h-0.6zM204.06 168.41h0.6v0.5h-0.6zM205.3 165.79h0.6v4.56h-0.6zM207.16 166.6h0.6v0.72h-0.6zM207.78 167.32h0.6v0.5h-0.6zM209.02 165.96h0.6v0.6h-0.6zM210.26 165.4h0.6v0.5h-0.6zM211.5 165.37h0.6v0.5h-0.6zM212.74 163.94h0.6v3.16h-0.6zM213.98 163.7h0.6v1.34h-0.6zM214.6 165.04h0.6v0.82h-0.6zM215.84 163.85h0.6v3.08h-0.6zM217.08 163.68h0.6v0.5h-0.6zM218.32 163.5h0.6v0.5h-0.6zM219.56 163.6h0.6v0.5h-0.6zM221.42 162.72h0.6v1.12h-0.6zM222.66 160.94h0.6v1.46h-0.6zM226.38 154.55h0.6v0.69h-0.6zM227 155.24h0.6v0.5h-0.6zM228.24 153h0.6v1h-0.6zM228.86 154h0.6v1.94h-0.6zM230.72 151.03h0.6v0.9h-0.6zM231.34 151.92h0.6v0.5h-0.6zM233.2 151.56h0.6v0.63h-0.6zM235.06 149.63h0.6v0.72h-0.6zM235.68 150.35h0.6v1.11h-0.6zM237.54 147.87h0.6v0.92h-0.6zM238.16 148.79h0.6v2.85h-0.6zM240.64 144.69h0.6v0.5h-0.6zM241.88 141.44h0.6v0.94h-0.6zM246.22 130.22h0.6v4.65h-0.6zM249.94 114.2h0.6v1.08h-0.6zM250.56 115.27h0.6v3.35h-0.6zM251.18 118.62h0.6v3.83h-0.6zM252.42 119.74h0.6v1.51h-0.6zM253.04 121.25h0.6v1.77h-0.6zM253.66 123.01h0.6v2.74h-0.6zM254.28 125.76h0.6v4.29h-0.6zM254.9 130.05h0.6v1.12h-0.6zM256.14 130.19h0.6v3.84h-0.6zM256.76 134.03h0.6v0.6h-0.6zM257.38 134.64h0.6v3.16h-0.6zM258.62 136.37h0.6v2.23h-0.6zM259.86 135.89h0.6v5.91h-0.6zM261.72 135.75h0.6v1.37h-0.6zM263.58 131.08h0.6v4.48h-0.6zM264.82 133.37h0.6v5.4h-0.6zM267.3 131.34h0.6v4.06h-0.6zM267.92 135.4h0.6v2.36h-0.6zM270.4 129.54h0.6v2.71h-0.6zM272.26 131.12h0.6v3.34h-0.6zM272.88 134.46h0.6v2.09h-0.6zM274.12 136.02h0.6v0.93h-0.6zM274.74 136.95h0.6v1.08h-0.6zM275.36 138.03h0.6v3.7h-0.6zM276.6 140.17h0.6v8.56h-0.6zM277.22 148.74h0.6v0.5h-0.6zM277.84 149.08h0.6v3.52h-0.6zM278.46 152.59h0.6v4.43h-0.6zM279.08 157.02h0.6v14.23h-0.6zM280.32 168.84h0.6v0.58h-0.6zM282.18 159.28h0.6v0.5h-0.6zM284.66 156.22h0.6v3.48h-0.6zM285.28 159.71h0.6v0.5h-0.6zM285.9 160.1h0.6v1.41h-0.6zM286.52 161.51h0.6v1.33h-0.6zM287.76 159.77h0.6v1.58h-0.6zM290.24 156h0.6v0.5h-0.6zM292.72 143.17h0.6v0.5h-0.6zM294.58 135.08h0.6v2.04h-0.6zM295.82 134.81h0.6v3.75h-0.6zM297.68 137.73h0.6v0.5h-0.6zM298.3 137.92h0.6v1.6h-0.6zM298.92 139.51h0.6v1.11h-0.6zM300.16 138.14h0.6v2.17h-0.6zM300.78 140.31h0.6v2.23h-0.6zM303.26 135.68h0.6v2.4h-0.6zM305.74 127.8h0.6v0.5h-0.6zM307.6 123.21h0.6v2.15h-0.6zM309.46 121.23h0.6v3.87h-0.6zM310.7 117.61h0.6v0.5h-0.6zM311.32 117.74h0.6v1.96h-0.6zM314.42 110.76h0.6v1.46h-0.6zM315.04 112.22h0.6v3.56h-0.6zM315.66 115.77h0.6v0.5h-0.6zM316.28 116.04h0.6v3.83h-0.6zM316.9 119.87h0.6v2.05h-0.6zM317.52 121.92h0.6v0.73h-0.6zM318.14 122.64h0.6v0.5h-0.6zM318.76 123.02h0.6v0.76h-0.6zM320 120.38h0.6v2.99h-0.6zM321.24 123.13h0.6v3.43h-0.6zM321.86 126.56h0.6v0.5h-0.6zM323.1 123.88h0.6v4.49h-0.6zM323.72 128.38h0.6v0.5h-0.6zM324.96 128.1h0.6v3.41h-0.6zM326.2 130.78h0.6v2.04h-0.6zM327.44 130.07h0.6v2.56h-0.6zM328.68 126.78h0.6v4.6h-0.6zM329.92 128.81h0.6v0.69h-0.6zM330.54 129.51h0.6v1.5h-0.6zM331.16 131h0.6v0.5h-0.6zM331.78 131.47h0.6v5.07h-0.6zM332.4 136.54h0.6v0.5h-0.6zM333.64 135.35h0.6v6.8h-0.6zM335.5 139.16h0.6v1.28h-0.6zM336.12 140.44h0.6v3.9h-0.6zM337.98 140.25h0.6v7.56h-0.6zM338.6 147.81h0.6v8.81h-0.6zM339.22 156.63h0.6v5.54h-0.6zM339.84 162.16h0.6v6.36h-0.6zM340.46 168.52h0.6v0.5h-0.6zM341.08 168.84h0.6v3.81h-0.6zM341.7 172.65h0.6v7.69h-0.6zM342.32 180.34h0.6v2.57h-0.6zM344.8 166.08h0.6v5.26h-0.6zM345.42 171.33h0.6v5.01h-0.6zM346.04 176.34h0.6v11.85h-0.6zM347.28 186.17h0.6v11.97h-0.6zM348.52 194.3h0.6v9.02h-0.6zM350.38 186.2h0.6v8.46h-0.6zM351 194.66h0.6v7.66h-0.6zM351.62 202.32h0.6v11.11h-0.6zM352.24 213.43h0.6v5.77h-0.6zM355.34 202.14h0.6v3.63h-0.6zM355.96 205.77h0.6v6.94h-0.6zM356.58 212.72h0.6v2.44h-0.6zM357.2 215.16h0.6v4.41h-0.6zM358.44 213.46h0.6v2.96h-0.6zM362.16 182.54h0.6v5.65h-0.6zM362.78 188.19h0.6v3.55h-0.6zM364.02 191.44h0.6v2.85h-0.6zM364.64 194.29h0.6v5.42h-0.6zM365.26 199.72h0.6v1.38h-0.6zM365.88 201.1h0.6v1.82h-0.6zM366.5 202.92h0.6v1.19h-0.6zM367.12 204.12h0.6v3.09h-0.6zM367.74 207.21h0.6v1.95h-0.6zM368.36 209.16h0.6v5.5h-0.6zM369.6 214.41h0.6v1.67h-0.6zM370.84 214.49h0.6v3.1h-0.6zM372.08 215.12h0.6v1.42h-0.6zM373.94 213.88h0.6v2.34h-0.6zM374.56 216.22h0.6v5.32h-0.6zM375.18 221.54h0.6v1.43h-0.6zM377.66 210.24h0.6v0.5h-0.6zM379.52 199.88h0.6v5.41h-0.6zM380.14 205.3h0.6v2.36h-0.6zM380.76 207.66h0.6v4.28h-0.6zM381.38 211.94h0.6v1.5h-0.6zM383.86 205.7h0.6v2.67h-0.6zM384.48 208.37h0.6v1.61h-0.6zM393.16 121.68h0.6v6.15h-0.6zM393.78 127.82h0.6v0.5h-0.6zM395.64 120.12h0.6v0.74h-0.6zM396.26 120.86h0.6v3.51h-0.6zM396.88 124.37h0.6v5.01h-0.6zM397.5 129.38h0.6v2.11h-0.6zM398.12 131.48h0.6v7.9h-0.6zM399.36 138.8h0.6v3.68h-0.6zM399.98 142.48h0.6v1.86h-0.6zM400.6 144.33h0.6v1.46h-0.6zM403.08 139.22h0.6v3.56h-0.6zM403.7 142.78h0.6v1.54h-0.6zM404.32 144.32h0.6v6.96h-0.6zM408.04 127.5h0.6v2.43h-0.6zM408.66 129.94h0.6v4.33h-0.6zM409.28 134.26h0.6v1.04h-0.6zM409.9 135.3h0.6v2.6h-0.6zM411.14 137.01h0.6v1.8h-0.6zM412.38 137.82h0.6v0.67h-0.6zM413.62 138.05h0.6v0.5h-0.6zM417.34 129.41h0.6v8.76h-0.6zM418.58 136.26h0.6v0.64h-0.6zM419.2 136.9h0.6v2.27h-0.6zM420.44 137.86h0.6v3.71h-0.6zM422.3 139.7h0.6v1.91h-0.6zM422.92 141.61h0.6v0.5h-0.6zM423.54 142.08h0.6v3.4h-0.6zM424.16 145.48h0.6v0.5h-0.6zM424.78 145.5h0.6v0.5h-0.6zM425.4 145.73h0.6v1.1h-0.6zM426.02 146.82h0.6v1.56h-0.6zM426.64 148.38h0.6v3.7h-0.6zM427.26 152.08h0.6v3.37h-0.6zM427.88 155.45h0.6v2.04h-0.6zM429.12 156.22h0.6v1.36h-0.6zM429.74 157.58h0.6v1.5h-0.6zM430.36 159.08h0.6v6.72h-0.6zM431.6 159.47h0.6v2.49h-0.6zM432.22 161.96h0.6v2.03h-0.6zM432.84 163.99h0.6v2.22h-0.6zM439.04 151h0.6v1.59h-0.6zM442.76 141.74h0.6v0.81h-0.6zM444 139.19h0.6v8.76h-0.6zM444.62 147.95h0.6v1.58h-0.6zM446.48 145.62h0.6v1.24h-0.6zM450.2 135.93h0.6v4.08h-0.6zM451.44 136.45h0.6v1.14h-0.6zM457.64 96.38h0.6v3.29h-0.6zM458.26 99.67h0.6v3.95h-0.6zM458.88 103.62h0.6v4.57h-0.6zM459.5 108.19h0.6v1.92h-0.6zM460.12 110.11h0.6v3.49h-0.6zM460.74 113.6h0.6v1.19h-0.6zM461.98 114.27h0.6v4.7h-0.6zM462.6 118.97h0.6v1.85h-0.6zM463.22 120.82h0.6v2.87h-0.6zM465.08 120.07h0.6v4.35h-0.6zM467.56 120.16h0.6v0.5h-0.6zM468.18 120.36h0.6v1.84h-0.6zM469.42 120.4h0.6v4.51h-0.6zM472.52 111.88h0.6v1.38h-0.6zM476.24 90.82h0.6v1.86h-0.6zM477.48 90.94h0.6v9.15h-0.6zM479.34 96.6h0.6v0.5h-0.6zM480.58 92.45h0.6v0.5h-0.6zM484.3 76.44h0.6v2.27h-0.6zM485.54 73.18h0.6v4.87h-0.6zM486.16 78.05h0.6v0.95h-0.6zM486.78 79h0.6v0.5h-0.6zM487.4 79.18h0.6v1.46h-0.6zM489.26 72.24h0.6v4.9h-0.6zM489.88 77.14h0.6v4.96h-0.6zM490.5 82.1h0.6v5.4h-0.6zM491.74 86.48h0.6v3.34h-0.6zM492.36 89.83h0.6v0.85h-0.6zM493.6 90.47h0.6v0.62h-0.6zM494.22 91.09h0.6v0.85h-0.6zM494.84 91.94h0.6v3.06h-0.6zM497.94 89.56h0.6v3.12h-0.6zM499.18 86.06h0.6v1.47h-0.6zM499.8 87.53h0.6v1.38h-0.6zM501.04 85.91h0.6v1.42h-0.6zM501.66 87.33h0.6v0.92h-0.6zM502.28 88.25h0.6v0.5h-0.6zM502.9 88.74h0.6v1.76h-0.6zM503.52 90.49h0.6v7.17h-0.6zM504.14 97.67h0.6v0.5h-0.6zM504.76 98.07h0.6v4h-0.6zM505.38 102.07h0.6v4.21h-0.6zM506.62 105.2h0.6v0.57h-0.6zM507.24 105.77h0.6v2.19h-0.6zM507.86 107.96h0.6v0.5h-0.6zM508.48 108.11h0.6v1.46h-0.6zM509.72 107.47h0.6v7.04h-0.6zM510.96 112.64h0.6v5.28h-0.6zM511.58 117.92h0.6v0.51h-0.6zM512.2 118.43h0.6v0.83h-0.6zM513.44 118.39h0.6v0.8h-0.6zM517.78 106.33h0.6v1.84h-0.6zM519.02 104.7h0.6v5.65h-0.6zM520.26 109.14h0.6v5.25h-0.6zM520.88 114.39h0.6v2.95h-0.6zM521.5 117.34h0.6v4.29h-0.6zM522.12 121.63h0.6v2.37h-0.6zM523.36 116.8h0.6v2.29h-0.6zM525.84 107.85h0.6v0.5h-0.6zM526.46 108.11h0.6v0.5h-0.6zM528.94 100.42h0.6v0.73h-0.6zM530.8 97.31h0.6v1.89h-0.6zM533.28 87.55h0.6v1.66h-0.6zM534.52 88.57h0.6v1.42h-0.6zM535.76 83.91h0.6v4.03h-0.6zM536.38 87.94h0.6v0.63h-0.6zM537.62 88.35h0.6v0.98h-0.6zM538.86 86.9h0.6v0.78h-0.6zM541.34 86.06h0.6v2.52h-0.6zM541.96 88.58h0.6v5.61h-0.6zM542.58 94.19h0.6v2.03h-0.6z" fill="#c65f5f"/>
<polyline points="119.4,294.48 120.02,292.92 120.64,305.51 121.26,301.41 121.88,306.8 122.5,310.51 123.12,314.19 123.74,316.21 124.36,313.55 124.98,311.88 125.6,310.85 126.22,316.58 126.84,308.49 127.46,305.54 128.08,307.86 128.7,304.7 129.32,300.25 129.94,299.54 130.56,296.09 131.18,294.52 131.8,289.18 132.42,288.35 133.04,292.39 133.66,291.97 134.28,286.78 134.9,284.96 135.52,290.05 136.14,285.62 136.76,293.86 137.38,294.59 138,297.97 138.62,305.77 139.24,304.46 139.86,298.35 140.48,299.8 141.1,289.92 141.72,289.76 142.34,280.43 142.96,281.66 143.58,283.41 144.2,281.28 144.82,280.62 145.44,283.39 146.06,286.53 146.68,293.41 147.3,296.57 147.92,302.68 148.54,305.98 149.16,302.68 149.78,307.35 150.4,306.54 151.02,308.1 151.64,307.16 152.26,308.76 152.88,314.63 153.5,313.2 154.12,313.38 154.74,319.17 155.36,318.4 155.98,327.26 156.6,327.94 157.22,327.82 157.84,327.08 158.46,325.52 159.08,321 159.7,320.83 160.32,312.91 160.94,310.55 161.56,313.25 162.18,310.66 162.8,309.84 163.42,310.62 164.04,313.8 164.66,315.32 165.28,312.81 165.9,302.41 166.52,302.33 167.14,303.99 167.76,300.91 168.38,298.32 169,294.65 169.62,292.86 170.24,290.16 170.86,289.6 171.48,291.34 172.1,293.9 172.72,288.25 173.34,293.53 173.96,293.9 174.58,294.37 175.2,291.03 175.82,288.22 176.44,291.62 177.06,283.16 177.68,290.75 178.3,289.17 178.92,287.03 179.54,287.98 180.16,287.78 180.78,290.48 181.4,289.32 182.02,288.03 182.64,288.09 183.26,287.77 183.88,285.02 184.5,291.17 185.12,296.32 185.74,299.92 186.36,308.74 186.98,305.81 187.6,308.42 188.22,310.05 188.84,307.14 189.46,303.33 190.08,308.75 190.7,309.21 191.32,311.02 191.94,308.2 192.56,310.34 193.18,313.96 193.8,309.16 194.42,312.96 195.04,308.11 195.66,309.46 196.28,309.87 196.9,302.45 197.52,297 198.14,298.74 198.76,298.39 199.38,298.4 200,296.58 200.62,294.57 201.24,293.66 201.86,294.66 202.48,292.67 203.1,290.19 203.72,291.33 204.34,291.78 204.96,289.99 205.58,290.11 206.2,296.38 206.82,296.15 207.44,293.17 208.06,296.21 208.68,291.12 209.3,284.03 209.92,276.66 210.54,281.05 211.16,280.41 211.78,282.71 212.4,284.88 213.02,284.68 213.64,284.81 214.26,287.26 214.88,286.06 215.5,290.7 216.12,287.31 216.74,292.69 217.36,291.37 217.98,295.3 218.6,287.62 219.22,286.24 219.84,290.04 220.46,283.33 221.08,280.14 221.7,269.1 222.32,273.69 222.94,271.59 223.56,266.76 224.18,266.76 224.8,262.85 225.42,265.77 226.04,264.64 226.66,264.05 227.28,267.12 227.9,270.37 228.52,276.39 229.14,274.51 229.76,274.33 230.38,273.77 231,275.82 231.62,275.19 232.24,279.37 232.86,280.45 233.48,286.88 234.1,286.77 234.72,288.07 235.34,281.05 235.96,281.14 236.58,276.96 237.2,278.33 237.82,277.56 238.44,280.05 239.06,277.97 239.68,272.28 240.3,273.29 240.92,269.9 241.54,271.31 242.16,263.38 242.78,263.05 243.4,265.09 244.02,263.25 244.64,264.01 245.26,264.77 245.88,267.71 246.5,265.8 247.12,259.02 247.74,256.25 248.36,262.65 248.98,259.79 249.6,260.78 250.22,273.18 250.84,272.46 251.46,286.33 252.08,289.59 252.7,297.57 253.32,301.28 253.94,308.85 254.56,305.82 255.18,305.56 255.8,303.22 256.42,301.86 257.04,309.26 257.66,300.41 258.28,297.32 258.9,303.55 259.52,302.97 260.14,302.78 260.76,306.39 261.38,307.21 262,307.4 262.62,303.04 263.24,302.95 263.86,307.04 264.48,302.25 265.1,299.87 265.72,299.29 266.34,299.02 266.96,298.67 267.58,297.11 268.2,300.52 268.82,298.75 269.44,305.22 270.06,297.57 270.68,305.38 271.3,302.12 271.92,307.81 272.54,306.72 273.16,312 273.78,308.39 274.4,307.81 275.02,310.67 275.64,310.44 276.26,329 276.88,330.11 277.5,334.75 278.12,335.85 278.74,326.17 279.36,324.79 279.98,313.11 280.6,314.47 281.22,315.15 281.84,310.76 282.46,308.56 283.08,310.57 283.7,310.11 284.32,316.53 284.94,312.59 285.56,315.82 286.18,314.46 286.8,311.41 287.42,310.74 288.04,305.04 288.66,303.68 289.28,300.62 289.9,298.2 290.52,294.9 291.14,288.71 291.76,286.36 292.38,283.08 293,276.66 293.62,281.66 294.24,281.63 294.86,285.16 295.48,280.7 296.1,285.82 296.72,281.08 297.34,285.1 297.96,283.05 298.58,286.16 299.2,290.34 299.82,288 300.44,291.56 301.06,300.68 301.68,294.14 302.3,290.98 302.92,286.13 303.54,279.98 304.16,279.66 304.78,279.48 305.4,275.9 306.02,265.45 306.64,274.55 307.26,271.93 307.88,275.76 308.5,274.42 309.12,273.66 309.74,276.28 310.36,281.11 310.98,284 311.6,290.32 312.22,291.2 312.84,288.49 313.46,284.66 314.08,283.87 314.7,284.59 315.32,291.84 315.94,293.55 316.56,307.97 317.18,301.82 317.8,304 318.42,301.84 319.04,300.17 319.66,300.14 320.28,302.26 320.9,303.55 321.52,302.2 322.14,304.52 322.76,310.96 323.38,310.78 324,309.86 324.62,306.83 325.24,310.28 325.86,306.72 326.48,309.03 327.1,303.51 327.72,301.58 328.34,302.32 328.96,296.89 329.58,297.5 330.2,294.99 330.82,297.98 331.44,302.46 332.06,304.88 332.68,307.8 333.3,313.88 333.92,316.24 334.54,318.01 335.16,313.21 335.78,313.46 336.4,315.82 337.02,321.63 337.64,330.17 338.26,332.21 338.88,327.97 339.5,329.41 340.12,325.84 340.74,325.02 341.36,320.77 341.98,316.32 342.6,317.63 343.22,312.11 343.84,313.62 344.46,318.25 345.08,318.93 345.7,316.87 346.32,321.09 346.94,318.36 347.56,317.01 348.18,310.38 348.8,312.51 349.42,315.95 350.04,317.13 350.66,321.31 351.28,323.77 351.9,326.21 352.52,322.67 353.14,314.25 353.76,313.53 354.38,311.88 355,304.52 355.62,308.74 356.24,311.62 356.86,310.85 357.48,312.44 358.1,311.11 358.72,304.75 359.34,303.64 359.96,301.5 360.58,295.6 361.2,297.05 361.82,300.04 362.44,296.41 363.06,300.3 363.68,303.15 364.3,306.63 364.92,303.37 365.54,301.44 366.16,308.01 366.78,309.4 367.4,313.15 368.02,311.48 368.64,308.11 369.26,309.66 369.88,309.89 370.5,300.62 371.12,304.05 371.74,304.52 372.36,305.44 372.98,306.64 373.6,310.92 374.22,305.28 374.84,304.12 375.46,298.44 376.08,298.16 376.7,293.81 377.32,289.67 377.94,297.59 378.56,299.6 379.18,303.37 379.8,299.78 380.42,304.95 381.04,297.31 381.66,297.73 382.28,297.37 382.9,296.83 383.52,293.19 384.14,290.44 384.76,284.33 385.38,281.63 386,277.24 386.62,277.2 387.24,272.34 387.86,275.3 388.48,268.17 389.1,268.24 389.72,265.61 390.34,266.09 390.96,266.02 391.58,264.07 392.2,264.37 392.82,268.86 393.44,268.1 394.06,264.82 394.68,268.35 395.3,283.13 395.92,274.66 396.54,280.19 397.16,286.27 397.78,290.33 398.4,290.06 399.02,293.54 399.64,293.79 400.26,295.87 400.88,294.54 401.5,299.33 402.12,297.7 402.74,301.85 403.36,298.4 403.98,299.53 404.6,294.19 405.22,290.26 405.84,286.66 406.46,285.24 407.08,289.23 407.7,292.88 408.32,291.07 408.94,297.19 409.56,293.47 410.18,298.79 410.8,301.68 411.42,299.34 412.04,300 412.66,299.06 413.28,300.94 413.9,296.84 414.52,294.14 415.14,296.5 415.76,288.15 416.38,291.78 417,303.13 417.62,297.92 418.24,300.96 418.86,301.66 419.48,302.29 420.1,307.63 420.72,306.81 421.34,303.57 421.96,307.6 422.58,308.33 423.2,307.33 423.82,313.94 424.44,313.12 425.06,315.83 425.68,316.3 426.3,323.78 426.92,319.26 427.54,320.26 428.16,323.2 428.78,313.43 429.4,315.68 430.02,316.45 430.64,309.44 431.26,316.13 431.88,309.5 432.5,311.36 433.12,312.13 433.74,314.34 434.36,316.12 434.98,306.91 435.6,314.56 436.22,311.49 436.84,310.36 437.46,305.86 438.08,306.38 438.7,297.35 439.32,294.98 439.94,288.59 440.56,289.41 441.18,281.39 441.8,283.32 442.42,278.88 443.04,284.82 443.66,284.51 444.28,289.25 444.9,290.12 445.52,293.43 446.14,292.15 446.76,292.14 447.38,288.12 448,287.34 448.62,285.64 449.24,289.53 449.86,283.88 450.48,285.06 451.1,283.39 451.72,278.01 452.34,278.91 452.96,268.67 453.58,269.91 454.2,267.94 454.82,267.65 455.44,267.39 456.06,270.52 456.68,273.03 457.3,276.61 457.92,287.43 458.54,282.69 459.16,289.71 459.78,289.81 460.4,293.19 461.02,294.34 461.64,295.6 462.26,297.64 462.88,298.47 463.5,296.47 464.12,299.42 464.74,303.2 465.36,303.72 465.98,299.13 466.6,300.04 467.22,302.26 467.84,301.8 468.46,297.89 469.08,298.66 469.7,296.53 470.32,294.85 470.94,290.78 471.56,285.74 472.18,284.26 472.8,283.82 473.42,274.24 474.04,271.31 474.66,271.41 475.28,269.69 475.9,278.53 476.52,289.09 477.14,284.65 477.76,285.52 478.38,283.71 479,282.1 479.62,280.89 480.24,273.81 480.86,280.15 481.48,280.67 482.1,275.88 482.72,276.49 483.34,282.95 483.96,284.47 484.58,281.72 485.2,285.16 485.82,283.24 486.44,289.1 487.06,288.73 487.68,295.6 488.3,293.94 488.92,298.65 489.54,301.74 490.16,301.6 490.78,305.91 491.4,307.98 492.02,307.91 492.64,313.95 493.26,307.93 493.88,312.17 494.5,304.38 495.12,308.07 495.74,306 496.36,307.56 496.98,302.81 497.6,297.19 498.22,300.56 498.84,297.9 499.46,295.11 500.08,296.62 500.7,291.45 501.32,296.95 501.94,299.75 502.56,303.07 503.18,305.86 503.8,311.87 504.42,311.62 505.04,316.61 505.66,317.67 506.28,318.85 506.9,314.89 507.52,321.99 508.14,319.39 508.76,322.79 509.38,324.75 510,323.35 510.62,320.6 511.24,325.24 511.86,321.75 512.48,321.8 513.1,316.34 513.72,307.03 514.34,305.93 514.96,304.84 515.58,304.46 516.2,304.07 516.82,303.4 517.44,301.75 518.06,307.76 518.68,305.5 519.3,318.33 519.92,317.83 520.54,305.98 521.16,309.65 521.78,301.47 522.4,298.96 523.02,301.27 523.64,298.83 524.26,300.84 524.88,291.14 525.5,289.94 526.12,291.58 526.74,293.49 527.36,286.62 527.98,289.98 528.6,288.13 529.22,289.54 529.84,287.65 530.46,286.1 531.08,288.02 531.7,284.89 532.32,286.89 532.94,282.32 533.56,273.89 534.18,277.91 534.8,274.63 535.42,285.19 536.04,285.96 536.66,285.8 537.28,283.61 537.9,289.47 538.52,291.59 539.14,290.12 539.76,290.04 540.38,287.78 541,296.95 541.62,301.42 542.24,309.61 542.86,298.53" fill="none" stroke="#f1b793" stroke-width="0.8" stroke-linejoin="round"/>
<path d="M112 247.9H584M112 347.4H584" stroke="#8d9096" stroke-width="1.2" fill="none"/>
<path d="M549.5 53V360" stroke="#8d9096" stroke-width="1" fill="none"/>
<path d="M549.5 237.37H551.8" stroke="#8d9096" stroke-width="0.8"/>
<text x="555" y="239.77" class="ax" textLength="19.6" lengthAdjust="spacingAndGlyphs">1440.0</text>
<path d="M549.5 218.36H551.8" stroke="#8d9096" stroke-width="0.8"/>
<text x="555" y="220.76" class="ax" textLength="19.6" lengthAdjust="spacingAndGlyphs">1480.0</text>
<path d="M549.5 199.36H551.8" stroke="#8d9096" stroke-width="0.8"/>
<text x="555" y="201.76" class="ax" textLength="19.6" lengthAdjust="spacingAndGlyphs">1520.0</text>
<path d="M549.5 180.35H551.8" stroke="#8d9096" stroke-width="0.8"/>
<text x="555" y="182.75" class="ax" textLength="19.6" lengthAdjust="spacingAndGlyphs">1560.0</text>
<path d="M549.5 161.34H551.8" stroke="#8d9096" stroke-width="0.8"/>
<text x="555" y="163.74" class="ax" textLength="19.6" lengthAdjust="spacingAndGlyphs">1600.0</text>
<path d="M549.5 142.33H551.8" stroke="#8d9096" stroke-width="0.8"/>
<text x="555" y="144.73" class="ax" textLength="19.6" lengthAdjust="spacingAndGlyphs">1640.0</text>
<path d="M549.5 123.32H551.8" stroke="#8d9096" stroke-width="0.8"/>
<text x="555" y="125.72" class="ax" textLength="19.6" lengthAdjust="spacingAndGlyphs">1680.0</text>
<path d="M549.5 104.32H551.8" stroke="#8d9096" stroke-width="0.8"/>
<text x="555" y="106.72" class="ax" textLength="19.6" lengthAdjust="spacingAndGlyphs">1720.0</text>
<path d="M549.5 85.31H551.8" stroke="#8d9096" stroke-width="0.8"/>
<text x="555" y="87.71" class="ax" textLength="19.6" lengthAdjust="spacingAndGlyphs">1760.0</text>
<path d="M549.5 66.3H551.8" stroke="#8d9096" stroke-width="0.8"/>
<text x="555" y="68.7" class="ax" textLength="19.6" lengthAdjust="spacingAndGlyphs">1800.0</text>
<path d="M549.5 268.4H551.8" stroke="#8d9096" stroke-width="0.8"/>
<text x="554.6" y="270.8" class="ax" textLength="23.2" lengthAdjust="spacingAndGlyphs">80.0000</text>
<path d="M549.5 291.1H551.8" stroke="#8d9096" stroke-width="0.8"/>
<text x="554.6" y="293.5" class="ax" textLength="23.2" lengthAdjust="spacingAndGlyphs">60.0000</text>
<path d="M549.5 313.8H551.8" stroke="#8d9096" stroke-width="0.8"/>
<text x="554.6" y="316.2" class="ax" textLength="23.2" lengthAdjust="spacingAndGlyphs">40.0000</text>
<path d="M549.5 336.5H551.8" stroke="#8d9096" stroke-width="0.8"/>
<text x="554.6" y="338.9" class="ax" textLength="23.2" lengthAdjust="spacingAndGlyphs">20.0000</text>
<rect x="549.5" y="87.2" width="30.5" height="8.8" fill="#26a69a"/>
<text x="555.5" y="94" class="ax" textLength="18.5" lengthAdjust="spacingAndGlyphs" style="fill:#fff">1745.7</text>
<path d="M146.5 347.4V350" stroke="#8d9096" stroke-width="0.8"/>
<text x="146.5" y="358.2" class="tb" text-anchor="middle">Feb</text>
<path d="M195.8 347.4V350" stroke="#8d9096" stroke-width="0.8"/>
<text x="195.8" y="358.2" class="tl" text-anchor="middle">12</text>
<path d="M281.2 347.4V350" stroke="#8d9096" stroke-width="0.8"/>
<text x="281.2" y="358.2" class="tb" text-anchor="middle">Mar</text>
<path d="M330.3 347.4V350" stroke="#8d9096" stroke-width="0.8"/>
<text x="330.3" y="358.2" class="tl" text-anchor="middle">11</text>
<path d="M377.5 347.4V350" stroke="#8d9096" stroke-width="0.8"/>
<text x="377.5" y="358.2" class="tl" text-anchor="middle">20</text>
<path d="M431.5 347.4V350" stroke="#8d9096" stroke-width="0.8"/>
<text x="431.5" y="358.2" class="tb" text-anchor="middle">Apr</text>
<path d="M477.3 347.4V350" stroke="#8d9096" stroke-width="0.8"/>
<text x="477.3" y="358.2" class="tl" text-anchor="middle">12</text>
<path d="M526.5 347.4V350" stroke="#8d9096" stroke-width="0.8"/>
<text x="526.5" y="358.2" class="tl" text-anchor="middle">22</text>
<g transform="translate(565.7 354.8)" fill="none" stroke="#3a3a3a" stroke-width="0.9"><circle r="2.5"/><path d="M0 -4.1V-2.6M0 2.6V4.1M-4.1 0H-2.6M2.6 0H4.1M-2.9 -2.9L-1.9 -1.9M2.9 2.9L1.9 1.9M-2.9 2.9L-1.9 1.9M2.9 -2.9L1.9 -1.9"/></g>
<g stroke="#a0a0a0" stroke-width="0.9" fill="none"><rect x="119.6" y="58.4" width="6.7" height="7"/><path d="M119.6 62H126.3"/></g>
<text x="132.8" y="65.7" class="lg" textLength="68.6" lengthAdjust="spacingAndGlyphs">GCM0, 120, CME</text>
<path d="M204.3 61.6l1.9 1.9 1.9-1.9" stroke="#555" stroke-width="0.9" fill="none"/>
<text x="226" y="65.7" class="lg">O</text>
<text x="233.2" y="65.7" class="lg" textLength="27.6" lengthAdjust="spacingAndGlyphs" style="fill:#46a595">1740.4</text>
<text x="267" y="65.7" class="lg">H</text>
<text x="273.6" y="65.7" class="lg" textLength="27.4" lengthAdjust="spacingAndGlyphs" style="fill:#46a595">1745.8</text>
<text x="307.9" y="65.7" class="lg">L</text>
<text x="313.2" y="65.7" class="lg" textLength="27.6" lengthAdjust="spacingAndGlyphs" style="fill:#46a595">1738.6</text>
<text x="347" y="65.7" class="lg">C</text>
<text x="353" y="65.7" class="lg" textLength="27.4" lengthAdjust="spacingAndGlyphs" style="fill:#46a595">1745.7</text>
<text x="387.5" y="65.7" class="lg" textLength="57.8" lengthAdjust="spacingAndGlyphs" style="fill:#46a595">+5.3 (+0.30%)</text>
<text x="119.4" y="79.4" class="lg2" textLength="40.3" lengthAdjust="spacingAndGlyphs">Volume (20)</text>
<path d="M164.2 76.2l1.8 1.8 1.8-1.8" stroke="#555" stroke-width="0.9" fill="none"/>
<rect x="173.8" y="73" width="8.4" height="7.5" rx="0.8" fill="#cfcfcf"/><ellipse cx="178" cy="76.75" rx="2.8" ry="1.8" fill="none" stroke="#fff" stroke-width="0.8"/><circle cx="178" cy="76.75" r="0.8" fill="#fff"/><rect x="184.8" y="73" width="8.4" height="7.5" rx="0.8" fill="#cfcfcf"/><circle cx="189" cy="76.75" r="2" fill="none" stroke="#fff" stroke-width="0.9"/><rect x="195" y="73" width="8.4" height="7.5" rx="0.8" fill="#cfcfcf"/><path d="M197.2 74.75l4 4M201.2 74.75l-4 4" stroke="#fff" stroke-width="0.9"/>
<text x="208" y="79.4" class="lg2" textLength="23.9" lengthAdjust="spacingAndGlyphs" style="fill:#5cb896">3.894K</text>
<text x="236.5" y="79.4" class="lg2" textLength="12.2" lengthAdjust="spacingAndGlyphs">n/a</text>
<text x="118.9" y="261" class="lg2" textLength="26.4" lengthAdjust="spacingAndGlyphs">RSI (14)</text>
<path d="M148.4 257.6l1.8 1.8 1.8-1.8" stroke="#555" stroke-width="0.9" fill="none"/>
<rect x="159" y="255.3" width="8.4" height="6.6" rx="0.8" fill="#cfcfcf"/><ellipse cx="163.2" cy="258.6" rx="2.8" ry="1.8" fill="none" stroke="#fff" stroke-width="0.8"/><circle cx="163.2" cy="258.6" r="0.8" fill="#fff"/><rect x="169.7" y="255.3" width="8.4" height="6.6" rx="0.8" fill="#cfcfcf"/><circle cx="173.9" cy="258.6" r="2" fill="none" stroke="#fff" stroke-width="0.9"/><rect x="180" y="255.3" width="8.4" height="6.6" rx="0.8" fill="#cfcfcf"/><path d="M182.2 256.6l4 4M186.2 256.6l-4 4" stroke="#fff" stroke-width="0.9"/>
<text x="192.6" y="261" class="lg2" textLength="27.4" lengthAdjust="spacingAndGlyphs" style="fill:#e9a463">53.2532</text>
<defs><radialGradient id="g1" cx="0.45" cy="0.45" r="0.6"><stop offset="0" stop-color="#7fd3f0"/><stop offset="1" stop-color="#2f8fc4"/></radialGradient></defs><g><circle cx="124.9" cy="325.7" r="5.2" fill="url(#g1)"/><path d="M120.22 323.98H129.58M120.22 327.42H129.58M123.18 321.02V330.38M126.62 321.02V330.38" stroke="#2a78a8" stroke-width="0.6" fill="none"/><circle cx="124.9" cy="325.7" r="4.9" fill="none" stroke="#2a78a8" stroke-width="0.6"/></g>
<text x="132.8" y="329.9" class="wm" textLength="67.5" lengthAdjust="spacingAndGlyphs">CME Group</text>
<path d="M252.4 150L258 156.6L255.1 156.6L255.1 237.2L258 237.2L252.4 243.8L246.8 237.2L249.7 237.2L249.7 156.6L246.8 156.6Z" fill="#0e1b34"/>
<path d="M282.5 179.8L288.1 186.4L285.2 186.4L285.2 277.4L288.1 277.4L282.5 284L276.9 277.4L279.8 277.4L279.8 186.4L276.9 186.4Z" fill="#0e1b34"/>
<rect x="36" y="361" width="649" height="5" fill="#0c2a5c" fill-opacity="0.3"/>
<path d="M36 366.3H685" stroke="#2c6298" stroke-width="1.1"/>
<defs><radialGradient id="g2" cx="0.45" cy="0.45" r="0.6"><stop offset="0" stop-color="#5cc0f0"/><stop offset="1" stop-color="#2f8ad0"/></radialGradient></defs><g><circle cx="42" cy="382.4" r="6.1" fill="url(#g2)"/><path d="M36.51 380.39H47.49M36.51 384.41H47.49M39.99 376.91V387.89M44.01 376.91V387.89" stroke="#1d5f9e" stroke-width="0.6" fill="none"/><circle cx="42" cy="382.4" r="5.8" fill="none" stroke="#1d5f9e" stroke-width="0.6"/></g>
<text x="50.3" y="387.6" class="fl" textLength="79" lengthAdjust="spacingAndGlyphs">CME Group</text>
<text x="456.9" y="389.1" class="ft" textLength="58" lengthAdjust="spacingAndGlyphs">CME GROUP PUBLIC</text>
<path d="M538.5 380V391" stroke="#3a6a9a" stroke-width="1"/>
<text x="560.8" y="389.1" class="ft" textLength="97.2" lengthAdjust="spacingAndGlyphs">&#169; 2020 CME Group. All rights reserved.</text>
<text x="678.5" y="389.1" class="ft" textLength="5.3" lengthAdjust="spacingAndGlyphs">14</text>
</svg>
<div class="botdark"></div><div class="botline"></div>
</body></html>
